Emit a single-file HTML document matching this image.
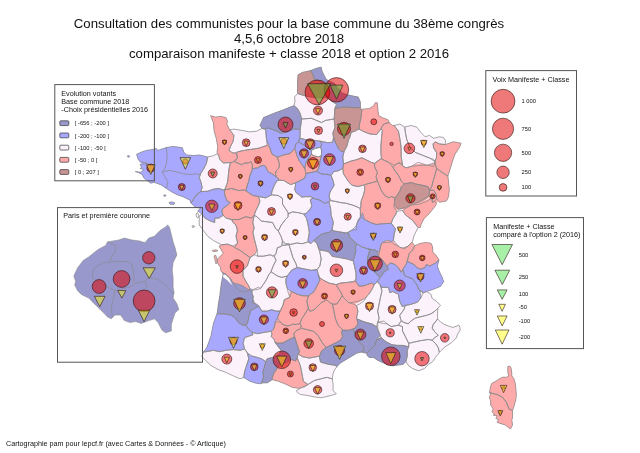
<!DOCTYPE html>
<html><head><meta charset="utf-8"><style>
html,body{margin:0;padding:0;background:#fff;}
body{width:640px;height:453px;overflow:hidden;position:relative;}
svg{position:absolute;left:0;top:0;will-change:transform;}
text{font-family:"Liberation Sans",sans-serif;fill:#111;}
</style></head><body>
<svg width="640" height="453" viewBox="0 0 640 453">
<defs><clipPath id="fr"><path d="M489.5,392.6 L491.0,393.0 L489.3,397.1 L490.6,401.1 L490.6,405.0 L493.2,409.0 L491.9,411.7 L494.6,414.3 L493.2,415.1 L497.2,415.8 L495.9,418.4 L498.5,419.7 L497.2,422.4 L505.2,425.0 L507.8,427.0 L510.5,429.0 L512.5,425.0 L511.8,419.7 L512.5,418.3 L512.5,410.5 L513.1,409.0 L514.4,405.0 L515.8,399.7 L516.4,394.4 L515.8,387.8 L515.1,382.5 L513.8,378.5 L511.8,375.9 L511.8,373.2 L511.1,367.9 L509.8,366.0 L507.8,366.6 L507.8,371.9 L508.5,375.9 L506.5,377.2 L502.5,377.2 L499.9,378.5 L495.9,381.2 L491.9,383.2 L490.6,386.5 L489.5,392.6ZM135.3,171.5 L138.5,172.6 L142.2,174.6 L143.9,178.0 L147.4,180.6 L150.8,183.2 L154.3,182.3 L161.1,184.9 L166.3,188.4 L171.5,191.8 L176.6,194.4 L183.5,197.0 L190.4,200.4 L190.8,202.6 L190.9,202.9 L194.9,206.8 L200.5,208.3 L197.7,211.1 L202.0,213.9 L199.2,216.0 L199.2,225.0 L203.5,230.7 L207.7,236.3 L213.4,240.5 L221.8,244.8 L219.0,246.2 L223.3,253.3 L220.4,256.1 L217.6,258.9 L217.6,263.1 L220.4,267.4 L221.1,271.6 L222.3,272.3 L222.8,275.7 L221.2,284.1 L219.8,295.4 L218.4,303.9 L217.7,309.6 L217.0,313.8 L213.5,323.0 L210.9,336.2 L208.5,343.0 L206.5,348.0 L203.5,352.0 L201.8,356.5 L205.6,360.5 L210.9,365.4 L218.0,369.5 L225.0,372.0 L232.5,375.5 L240.0,378.8 L243.7,377.5 L250.0,381.3 L255.0,383.0 L260.0,383.8 L261.2,383.3 L262.0,383.0 L267.5,382.8 L272.2,379.7 L278.4,381.3 L286.3,384.4 L292.5,387.5 L300.0,388.5 L296.4,390.6 L297.2,392.2 L300.3,394.5 L306.6,395.3 L314.4,396.9 L320.6,397.7 L325.3,396.9 L331.6,395.3 L336.3,393.8 L333.1,390.6 L333.1,384.4 L332.3,378.9 L333.1,373.4 L334.5,370.0 L337.1,366.4 L340.4,363.1 L345.9,359.7 L351.4,356.4 L357.0,353.1 L361.4,352.0 L364.7,353.1 L366.9,353.1 L366.9,355.3 L369.1,357.4 L373.4,357.4 L377.6,360.2 L381.8,362.3 L387.5,364.4 L393.1,365.9 L397.4,365.2 L403.0,364.4 L405.9,361.6 L408.7,365.9 L412.9,368.7 L418.6,370.8 L424.2,368.7 L428.5,364.4 L432.7,361.6 L435.5,357.4 L439.4,352.3 L440.6,351.1 L444.3,347.5 L447.9,345.0 L451.6,342.6 L454.0,340.2 L456.4,337.8 L457.6,334.1 L460.0,330.5 L460.0,327.5 L458.8,325.0 L456.4,326.2 L452.8,327.5 L449.1,326.2 L444.3,324.4 L440.6,322.0 L437.6,319.0 L437.6,314.0 L437.8,308.3 L440.6,305.4 L436.4,301.2 L432.2,298.4 L430.8,294.1 L426.6,291.6 L432.7,289.6 L440.5,286.4 L443.7,281.7 L442.1,277.0 L439.0,270.8 L437.4,266.0 L439.0,259.8 L435.8,255.1 L432.7,251.9 L432.7,247.2 L431.1,243.3 L426.4,242.5 L420.2,243.3 L417.0,244.9 L414.7,245.7 L412.3,242.6 L413.9,236.0 L415.3,233.1 L418.1,227.5 L420.3,227.5 L421.0,224.7 L423.8,219.0 L429.4,213.4 L435.1,206.3 L438.3,200.7 L439.4,202.3 L446.5,200.9 L448.6,196.6 L449.3,189.6 L448.6,182.5 L447.9,176.1 L450.8,167.0 L452.9,159.9 L455.0,154.2 L457.8,150.0 L459.1,148.1 L461.2,143.2 L453.5,141.8 L445.0,144.6 L445.7,141.1 L443.6,137.5 L439.3,136.8 L433.7,138.3 L429.4,135.4 L425.2,136.8 L421.0,132.6 L416.7,127.0 L411.1,125.5 L404.7,127.0 L399.8,124.1 L394.1,125.5 L392.2,125.4 L389.3,122.5 L387.9,119.7 L382.3,117.6 L378.7,115.5 L378.0,110.5 L377.3,102.8 L375.2,102.8 L373.8,105.6 L369.6,108.4 L361.2,109.4 L360.4,107.7 L360.4,102.1 L358.3,97.1 L348.4,95.0 L342.0,93.0 L334.0,83.0 L328.8,81.0 L326.0,79.1 L323.6,74.3 L322.2,71.5 L321.2,67.2 L316.5,68.2 L310.8,70.5 L302.2,72.4 L298.0,74.8 L297.5,81.0 L297.5,93.5 L294.5,97.0 L295.0,101.0 L294.0,105.6 L283.3,109.8 L273.4,113.4 L263.5,117.6 L259.9,125.4 L262.2,128.4 L256.5,131.2 L249.4,131.9 L242.4,130.5 L233.9,129.1 L229.7,129.8 L226.8,124.1 L227.5,121.3 L226.1,117.8 L221.2,116.4 L215.5,117.1 L210.6,115.7 L213.4,122.7 L214.1,131.2 L216.2,138.3 L217.7,146.7 L217.0,152.4 L217.6,153.6 L213.5,155.6 L207.8,157.0 L205.0,156.3 L199.3,154.9 L193.7,155.6 L186.6,154.9 L183.8,152.1 L182.4,147.8 L178.1,147.1 L172.5,146.4 L166.5,147.6 L161.8,149.0 L158.0,150.4 L156.1,148.5 L152.3,149.5 L146.6,150.4 L141.8,151.9 L136.6,154.2 L138.0,159.0 L141.8,164.3 L140.0,164.7 L141.8,167.5 L140.0,168.5 L149.1,170.7 L148.6,173.4 L135.3,171.5Z"/></clipPath></defs>
<g font-size="13.2" text-anchor="middle">
<text x="289" y="28.4">Consultation des communistes pour la base commune du 38ème congrès</text>
<text x="289" y="43.1">4,5,6 octobre 2018</text>
<text x="289" y="58.2">comparaison manifeste + classe 2018 et option 2 2016</text>
</g>
<g stroke-linejoin="round">
<g clip-path="url(#fr)">
<polygon points="210.6,115.7 215.5,117.1 221.2,116.4 226.1,117.8 227.5,121.3 226.8,124.1 229.7,129.8 233.9,135.4 233.2,141.1 230.4,146.7 229.0,150.3 231.8,152.4 233.7,153.0 236.7,153.8 237.4,158.0 233.5,161.4 232.5,162.3 230.2,162.5 228.9,162.6 223.3,163.0 219.8,159.4 219.0,156.6 217.6,153.6 217.0,152.4 217.7,146.7 216.2,138.3 214.1,131.2 213.4,122.7" fill="#ffaaaa" stroke="#ffaaaa" stroke-width="3"/>
<polygon points="229.7,129.8 233.9,129.1 242.4,130.5 249.4,131.9 256.5,131.2 262.2,128.4 263.0,128.7 265.7,129.8 266.3,137.5 266.4,138.3 267.1,145.3 259.3,148.1 254.2,148.9 249.4,149.6 244.4,150.4 241.0,151.0 237.6,151.9 233.7,153.0 231.8,152.4 229.0,150.3 230.4,146.7 233.2,141.1 233.9,135.4" fill="#fcf2fc" stroke="#fcf2fc" stroke-width="3"/>
<polygon points="259.9,125.4 263.5,117.6 273.4,113.4 283.3,109.8 293.9,105.6 297.4,108.4 300.2,113.4 301.6,119.0 300.9,124.7 300.2,129.6 294.6,128.9 290.3,130.3 286.1,132.4 280.4,133.1 276.2,131.0 269.1,128.2 265.6,128.5 263.0,128.7 262.2,128.4" fill="#9898cc" stroke="#9898cc" stroke-width="3"/>
<polygon points="265.6,128.5 269.1,128.2 276.2,131.0 280.4,133.1 286.1,132.4 290.3,130.3 294.6,128.9 300.2,129.6 300.2,134.6 299.5,138.0 299.1,140.2 298.8,141.6 298.3,142.0 296.0,143.7 294.6,148.7 291.7,152.0 290.3,153.6 288.3,154.0 283.3,155.0 281.3,155.8 277.6,157.2 276.9,156.9 276.8,156.8 272.0,154.3 269.8,147.8 269.1,145.9 266.4,138.3 266.3,137.5 265.7,129.8" fill="#a8a8ff" stroke="#a8a8ff" stroke-width="3"/>
<polygon points="298.0,74.8 302.2,72.4 310.8,70.5 313.2,75.3 314.1,79.1 319.0,81.0 324.0,83.0 328.0,86.0 330.0,92.0 328.0,97.0 322.0,98.0 315.0,97.5 308.0,96.5 302.0,95.0 297.5,93.5 297.5,88.6 297.5,81.0" fill="#c89494" stroke="#c89494" stroke-width="3"/>
<polygon points="310.8,70.5 316.5,68.2 321.2,67.2 322.2,71.5 323.6,74.3 326.0,79.1 328.8,81.0 334.0,83.0 338.0,88.0 342.0,93.0 348.4,95.0 358.3,97.1 360.4,102.1 360.4,107.7 354.0,107.7 344.1,107.0 334.9,108.4 336.6,104.4 330.0,100.0 328.0,97.0 330.0,92.0 328.0,86.0 324.0,83.0 319.0,81.0 314.1,79.1 313.2,75.3" fill="#9898cc" stroke="#9898cc" stroke-width="3"/>
<polygon points="297.5,93.5 302.0,95.0 308.0,96.5 315.0,97.5 322.0,98.0 328.0,97.0 330.0,100.0 336.6,104.4 334.9,108.4 334.2,119.0 325.6,120.4 321.4,122.5 311.5,118.3 301.6,119.0 300.2,113.4 297.4,108.4 294.0,105.6 295.0,101.0 294.5,97.0" fill="#fcf2fc" stroke="#fcf2fc" stroke-width="3"/>
<polygon points="334.9,108.4 344.1,107.0 354.0,107.7 360.4,107.7 361.2,109.4 361.8,110.5 361.1,117.6 359.7,123.3 359.0,128.9 359.1,129.3 358.7,129.1 355.4,131.0 351.2,132.4 349.8,137.4 348.4,140.2 347.0,145.9 344.1,151.5 341.3,151.5 338.5,148.7 335.7,143.0 333.5,137.4 332.8,133.1 334.9,127.5 334.2,119.0" fill="#c89494" stroke="#c89494" stroke-width="3"/>
<polygon points="361.2,109.4 369.6,108.4 373.8,105.6 375.2,102.8 377.3,102.8 378.0,110.5 378.7,115.5 382.3,117.6 387.9,119.7 389.3,122.5 384.4,123.8 383.7,124.0 380.9,128.9 376.6,134.6 369.6,133.9 363.9,131.7 359.1,129.3 359.1,129.3 358.7,129.1 359.0,128.9 359.7,123.3 361.1,117.6 361.8,110.5" fill="#ffaaaa" stroke="#ffaaaa" stroke-width="3"/>
<polygon points="384.4,123.8 389.3,122.5 392.2,125.4 394.1,125.5 398.4,131.2 399.8,138.3 401.2,148.1 401.2,156.6 402.6,165.8 401.3,164.1 399.8,162.3 397.8,163.3 394.1,165.1 388.5,162.3 384.5,160.4 381.6,159.0 381.5,158.2 381.1,155.6 380.9,154.3 380.9,145.9 381.6,137.4 382.3,130.3 380.9,128.9 383.7,124.0" fill="#ffaaaa" stroke="#ffaaaa" stroke-width="3"/>
<polygon points="394.1,125.5 399.8,124.1 404.7,127.0 405.4,132.6 406.8,139.7 409.7,146.7 415.3,152.4 422.4,155.2 429.4,158.0 433.7,159.4 434.6,161.2 435.0,162.1 435.1,162.3 434.8,162.9 434.6,163.9 433.7,166.5 426.9,165.2 426.6,165.1 418.1,162.3 411.1,166.5 408.1,167.3 406.1,167.9 402.6,165.8 401.2,156.6 401.2,148.1 399.8,138.3 398.4,131.2" fill="#fcf2fc" stroke="#fcf2fc" stroke-width="3"/>
<polygon points="404.7,127.0 411.1,125.5 416.7,127.0 421.0,132.6 425.2,136.8 429.4,135.4 433.7,138.3 439.3,136.8 443.6,137.5 445.7,141.1 445.0,144.6 439.3,143.9 435.1,141.8 433.0,143.9 433.7,148.1 436.5,152.4 436.5,158.0 435.0,160.5 434.6,161.2 429.4,158.0 422.4,155.2 415.3,152.4 409.7,146.7 406.8,139.7 405.4,132.6" fill="#fcf2fc" stroke="#fcf2fc" stroke-width="3"/>
<polygon points="435.1,141.8 439.3,143.9 445.0,144.6 453.5,141.8 461.2,143.2 459.1,148.1 457.8,150.0 455.0,154.2 452.9,159.9 450.8,167.0 447.9,176.1 442.3,172.6 436.6,168.4 434.6,163.9 434.8,162.9 434.8,162.9 435.1,162.3 435.1,162.3 435.0,162.1 435.0,160.5 435.0,160.5 436.5,158.0 436.5,152.4 433.7,148.1 433.0,143.9" fill="#ffaaaa" stroke="#ffaaaa" stroke-width="3"/>
<polygon points="436.6,168.4 442.3,172.6 447.9,176.1 448.6,182.5 449.3,189.6 448.6,196.6 446.5,200.9 439.4,202.3 436.6,198.0 435.9,193.8 433.8,190.3 429.6,190.3 431.7,186.7 433.1,181.1 435.2,174.0" fill="#ffaaaa" stroke="#ffaaaa" stroke-width="3"/>
<polygon points="429.6,190.3 433.8,190.3 435.9,193.8 436.6,198.0 435.2,200.9 434.6,201.2 432.4,202.3 431.0,198.7 428.9,195.2 429.5,191.0" fill="#ffaaaa" stroke="#ffaaaa" stroke-width="3"/>
<polygon points="392.8,167.0 397.8,163.3 401.3,164.1 402.6,165.8 406.1,167.9 408.1,167.3 411.1,166.5 418.3,165.5 426.6,165.1 426.9,165.2 434.8,162.9 434.6,161.2 434.6,161.2 435.0,160.5 435.0,162.1 435.0,162.1 435.1,162.3 436.6,168.4 435.2,174.0 433.1,181.1 431.7,186.7 429.6,190.3 428.1,186.7 422.5,185.3 415.4,183.9 411.2,182.5 404.1,183.9 401.3,181.1 398.5,175.4 394.2,169.8" fill="#ffaaaa" stroke="#ffaaaa" stroke-width="3"/>
<polygon points="404.1,183.9 411.2,182.5 415.4,183.9 422.5,185.3 428.1,186.7 429.6,190.3 429.6,190.3 429.6,190.3 429.5,191.0 428.9,195.2 425.3,198.0 418.3,202.3 411.2,205.1 410.5,205.4 404.1,207.9 398.5,209.3 394.2,205.1 394.9,198.0 397.1,195.2 399.9,191.0 401.3,186.7" fill="#c89494" stroke="#c89494" stroke-width="3"/>
<polygon points="355.4,131.0 358.7,129.1 358.7,129.1 359.1,129.3 359.0,128.9 359.0,128.9 363.9,131.7 369.6,133.9 376.6,134.6 380.9,128.9 382.3,130.3 381.6,137.4 380.9,145.9 380.9,154.3 381.1,155.6 381.5,158.2 380.6,158.9 374.6,163.3 371.7,162.6 366.1,159.8 361.8,157.7 356.2,159.8 350.5,161.2 343.5,164.0 342.8,157.0 344.1,151.5 347.0,145.9 348.4,140.2 349.8,137.4 351.2,132.4" fill="#fcf2fc" stroke="#fcf2fc" stroke-width="3"/>
<polygon points="343.5,164.0 350.5,161.2 356.2,159.8 361.8,157.7 366.1,159.8 371.7,162.6 374.6,163.3 374.6,166.8 377.4,172.5 376.0,176.7 377.4,181.0 376.0,181.5 373.1,182.4 372.7,182.5 367.5,183.8 364.4,184.8 363.3,185.2 357.6,186.6 352.0,185.2 349.1,182.4 346.3,178.1 343.5,173.9 342.8,168.3" fill="#ffaaaa" stroke="#ffaaaa" stroke-width="3"/>
<polygon points="374.6,163.3 380.6,158.9 381.6,159.0 384.5,160.4 388.5,162.3 392.8,167.0 394.2,169.8 398.5,175.4 401.3,181.1 404.1,183.9 401.3,186.7 399.9,191.0 397.1,195.2 394.9,198.0 391.5,196.5 388.7,197.9 384.4,195.1 381.6,190.9 377.4,181.0 376.0,176.7 377.4,172.5 374.6,166.8" fill="#ffaaaa" stroke="#ffaaaa" stroke-width="3"/>
<polygon points="364.4,184.8 367.5,183.8 372.7,182.5 373.1,182.4 376.0,181.5 377.4,181.0 381.6,190.9 384.4,195.1 388.7,197.9 391.5,196.5 394.9,198.0 394.2,205.1 394.1,207.7 397.0,211.2 395.5,214.8 392.7,219.0 391.3,223.3 381.6,223.8 376.0,224.5 370.3,222.4 364.7,219.6 361.0,217.1 360.4,216.7 360.4,210.4 360.6,208.4 360.7,206.8 361.1,201.2 363.3,195.5 364.7,189.9 364.5,185.7" fill="#ffaaaa" stroke="#ffaaaa" stroke-width="3"/>
<polygon points="402.6,210.5 410.5,205.4 411.2,205.1 419.6,204.2 428.0,200.7 431.0,198.7 432.3,197.1 432.4,202.3 434.6,201.2 436.6,203.7 435.1,206.3 429.4,213.4 423.8,219.0 421.0,224.7 420.3,227.5 418.1,227.5 412.5,220.4 405.4,214.8" fill="#ffaaaa" stroke="#ffaaaa" stroke-width="3"/>
<polygon points="397.0,211.2 402.6,210.5 405.4,214.8 412.5,220.4 418.1,227.5 415.3,233.1 413.9,236.0 412.5,241.6 412.0,242.2 408.3,245.9 408.0,246.2 404.7,248.7 402.5,248.1 399.8,247.3 398.9,246.4 395.5,243.0 393.4,240.2 394.1,234.6 395.5,228.9 391.3,223.3 392.7,219.0 395.5,214.8" fill="#fcf2fc" stroke="#fcf2fc" stroke-width="3"/>
<polygon points="331.0,175.5 333.8,171.5 338.8,170.6 342.8,168.3 343.5,173.9 346.3,178.1 349.1,182.4 352.0,185.2 357.6,186.6 363.3,185.2 364.5,185.7 364.7,189.9 363.3,195.5 361.1,201.2 360.7,206.8 360.6,208.4 359.2,207.8 353.4,205.4 346.3,203.3 340.7,202.6 335.3,201.4 330.6,200.6 329.1,196.7 329.8,192.8 331.4,189.7 333.0,187.3 334.1,185.2 333.0,180.5" fill="#fcf2fc" stroke="#fcf2fc" stroke-width="3"/>
<polygon points="299.1,140.2 299.5,138.0 300.2,138.2 305.3,139.6 313.4,140.2 320.5,141.2 321.6,144.2 320.5,147.3 315.5,148.3 311.4,150.3 306.3,147.3 304.3,145.2 299.5,142.6 298.3,142.0 298.8,141.6 298.8,141.6" fill="#a8a8ff" stroke="#a8a8ff" stroke-width="3"/>
<polygon points="298.8,141.6 299.5,142.6 304.3,145.2 306.3,147.3 311.4,150.3 311.4,154.4 308.4,158.4 306.3,161.5 305.3,165.5 304.8,168.8 302.5,165.2 299.0,160.5 296.6,154.7 295.5,150.6 294.6,148.7 296.0,143.7 298.3,142.0 298.3,142.0" fill="#a8a8ff" stroke="#a8a8ff" stroke-width="3"/>
<polygon points="308.4,158.4 311.4,154.4 314.5,155.9 318.5,156.9 321.6,155.4 320.0,160.5 319.5,165.5 317.5,170.6 316.6,171.1 311.9,172.3 306.0,173.4 304.8,168.8 305.3,165.5 306.3,161.5" fill="#ffaaaa" stroke="#ffaaaa" stroke-width="3"/>
<polygon points="320.5,141.2 327.7,142.7 332.7,142.2 333.5,137.4 335.7,143.0 338.5,148.7 341.3,151.5 344.1,151.5 342.8,157.0 343.5,164.0 342.8,168.3 338.8,170.6 333.8,171.5 331.0,175.5 327.7,174.0 325.7,174.3 323.6,174.7 320.1,173.4 316.6,171.1 317.5,170.6 319.5,165.5 320.0,160.5 321.6,155.4 321.6,150.3 320.5,147.3 321.6,144.2" fill="#a8a8ff" stroke="#a8a8ff" stroke-width="3"/>
<polygon points="276.8,156.8 277.6,157.2 281.3,155.8 283.3,155.0 288.3,154.0 291.7,152.0 294.6,148.7 295.5,150.6 296.6,154.7 299.0,160.5 302.5,165.2 304.8,168.8 306.0,173.4 304.8,178.1 300.2,180.5 295.5,182.8 290.8,184.6 287.3,182.8 283.8,180.5 278.8,180.2 278.1,178.2 276.1,176.9 275.5,173.5 276.1,170.9 278.8,168.2 279.4,164.9 279.1,162.9" fill="#ffaaaa" stroke="#ffaaaa" stroke-width="3"/>
<polygon points="295.5,182.8 300.2,180.5 304.8,178.1 306.0,173.4 311.9,172.3 316.6,171.1 320.1,173.4 325.7,174.3 331.0,175.5 333.0,180.5 334.1,185.2 333.0,187.3 331.4,189.7 329.8,192.8 329.1,196.7 330.6,200.6 329.1,201.4 329.1,201.4 327.5,202.2 324.4,203.4 322.0,201.4 318.9,199.8 315.8,199.1 312.7,197.9 311.1,196.7 305.6,196.7 301.7,197.1 299.4,195.2 296.3,192.8 294.7,189.7 295.5,185.0" fill="#a8a8ff" stroke="#a8a8ff" stroke-width="3"/>
<polygon points="136.6,154.2 141.8,151.9 146.6,150.4 152.3,149.5 156.1,148.5 158.0,150.4 161.8,149.0 166.5,147.6 172.5,146.4 178.1,147.1 182.4,147.8 183.8,152.1 186.6,154.9 193.7,155.6 199.3,154.9 205.0,156.3 207.8,157.0 206.4,163.4 203.6,169.0 200.8,173.3 199.3,177.5 200.8,181.7 202.2,187.4 200.8,191.6 198.5,193.1 196.5,194.4 193.7,198.7 192.3,201.5 190.9,202.9 190.8,202.6 190.4,200.4 183.5,197.0 176.6,194.4 171.5,191.8 166.3,188.4 161.1,184.9 154.3,182.3 150.8,183.2 147.4,180.6 143.9,178.0 142.2,174.6 138.5,172.6 135.3,171.5 140.9,172.3 143.7,169.4 140.0,168.5 141.8,167.5 140.0,164.7 144.5,163.8 147.8,163.4 144.5,162.6 140.0,161.8 138.0,159.0" fill="#a8a8ff" stroke="#a8a8ff" stroke-width="3"/>
<polygon points="207.8,157.0 213.5,155.6 217.6,153.6 219.0,156.6 219.8,159.4 223.3,163.0 228.9,162.6 230.2,162.5 230.1,163.3 228.9,169.7 228.2,176.7 227.5,182.4 225.4,188.0 224.6,189.9 223.1,189.9 218.9,188.5 213.3,189.2 207.6,191.3 201.9,191.5 200.8,191.6 200.8,191.6 202.2,187.4 200.8,181.7 199.3,177.5 200.8,173.3 203.6,169.0 206.4,163.4" fill="#fcf2fc" stroke="#fcf2fc" stroke-width="3"/>
<polygon points="230.1,163.3 232.5,162.3 233.5,161.4 234.9,161.9 241.6,164.7 245.0,163.0 248.3,163.0 251.0,161.6 252.3,164.3 252.3,168.9 251.6,171.6 249.6,176.2 249.0,180.2 247.3,185.2 245.9,190.9 244.3,189.9 238.7,190.6 231.6,188.5 224.6,189.9 225.4,188.0 227.5,182.4 228.2,176.7 228.9,169.7" fill="#ffaaaa" stroke="#ffaaaa" stroke-width="3"/>
<polygon points="236.7,153.8 237.6,151.9 241.0,151.0 244.4,150.4 249.4,149.6 254.2,148.9 259.3,148.1 267.1,145.3 269.8,147.8 272.0,154.3 276.9,156.9 277.6,157.2 277.6,157.2 279.1,162.9 279.4,164.9 278.8,168.2 276.1,170.9 275.5,173.5 276.1,176.9 273.5,174.9 271.5,173.5 268.8,172.2 266.9,169.6 265.5,166.3 263.5,165.3 260.2,166.3 257.6,167.9 254.9,168.2 252.3,168.9 252.3,164.3 251.0,161.6 248.3,163.0 245.0,163.0 241.6,164.7 234.9,161.9 237.4,158.0" fill="#ffaaaa" stroke="#ffaaaa" stroke-width="3"/>
<polygon points="252.3,168.9 254.9,168.2 257.6,167.9 260.2,166.3 263.5,165.3 265.5,166.3 266.9,169.6 268.8,172.2 271.5,173.5 273.5,174.9 276.1,176.9 278.1,178.2 278.8,180.2 276.7,181.0 274.4,185.2 272.0,191.0 271.4,194.7 271.3,195.1 265.8,197.8 265.6,197.9 259.7,196.7 258.7,196.9 258.6,196.5 252.8,195.5 248.6,192.7 245.9,190.9 247.3,185.2 249.0,180.2 249.6,176.2 251.6,171.6" fill="#a8a8ff" stroke="#a8a8ff" stroke-width="3"/>
<polygon points="201.9,191.5 207.6,191.3 213.3,189.2 218.9,188.5 223.1,189.9 224.6,189.9 224.6,194.1 226.0,198.4 227.4,201.2 230.2,202.6 227.4,205.4 223.1,208.3 221.7,211.1 223.1,215.3 218.9,218.1 214.7,218.1 214.7,222.4 210.4,221.0 204.8,218.1 202.0,213.9 197.7,211.1 200.5,208.3 194.9,206.8 190.9,202.9 190.8,202.6 192.3,201.5 193.8,198.6 198.5,193.1 200.8,191.6 200.8,191.6 200.8,191.6" fill="#a8a8ff" stroke="#a8a8ff" stroke-width="3"/>
<polygon points="224.6,189.9 231.6,188.5 238.7,190.6 244.3,189.9 245.9,190.9 248.6,192.7 252.8,195.5 258.6,196.5 258.7,196.9 258.7,196.9 259.9,201.2 258.5,205.4 255.6,211.1 254.2,215.3 251.4,218.1 245.8,216.7 238.7,219.6 231.6,219.6 226.0,218.1 223.1,215.3 221.7,211.1 223.1,208.3 227.4,205.4 230.2,202.6 227.4,201.2 226.0,198.4 224.6,194.1" fill="#ffaaaa" stroke="#ffaaaa" stroke-width="3"/>
<polygon points="301.6,119.0 311.5,118.3 321.4,122.5 325.6,120.4 334.2,119.0 334.9,127.5 332.8,133.1 333.5,137.4 332.7,142.2 327.7,142.7 320.5,141.2 313.4,140.2 305.3,139.6 300.2,138.2 300.2,134.6 300.2,129.6 300.9,124.7" fill="#fcf2fc" stroke="#fcf2fc" stroke-width="3"/>
<polygon points="258.7,196.9 258.6,196.5 258.6,196.5 259.7,196.7 265.6,197.9 265.8,197.8 271.3,195.1 271.3,195.1 271.4,194.7 272.6,194.9 278.3,195.6 282.5,198.5 282.5,204.1 285.3,208.4 288.1,212.6 288.1,214.0 288.1,214.0 288.1,216.8 285.3,219.7 281.1,225.3 278.3,231.0 275.4,228.1 272.6,222.5 267.0,221.8 261.3,221.1 257.1,216.8 254.2,215.3 255.6,211.1 258.5,205.4 259.9,201.2" fill="#fcf2fc" stroke="#fcf2fc" stroke-width="3"/>
<polygon points="278.8,180.2 283.8,180.5 287.3,182.8 290.8,184.6 295.5,182.8 295.5,185.0 294.7,189.7 296.3,192.8 299.4,195.2 301.7,197.1 305.6,196.7 311.1,196.7 312.7,197.9 310.3,199.8 311.1,203.0 311.9,206.1 309.5,210.0 306.0,213.5 303.7,214.0 298.0,212.6 292.4,211.9 288.1,214.0 288.1,212.6 285.3,208.4 282.5,204.1 282.5,198.5 278.3,195.6 272.6,194.9 271.3,195.1 271.4,194.7 271.4,194.7 272.0,191.0 274.4,185.2 276.7,181.0" fill="#fcf2fc" stroke="#fcf2fc" stroke-width="3"/>
<polygon points="312.7,197.9 315.8,199.1 318.9,199.8 322.0,201.4 324.4,203.4 327.5,202.2 329.1,201.4 329.8,205.3 330.6,208.4 331.2,215.4 333.4,222.5 332.0,229.6 330.8,230.7 329.1,232.4 327.3,232.8 322.1,233.8 316.4,238.0 314.1,240.7 313.9,240.5 312.2,242.3 310.8,243.7 308.6,241.6 307.9,240.9 309.3,232.4 307.9,223.9 306.5,218.3 303.7,214.0 306.0,213.5 309.5,210.0 311.9,206.1 311.1,203.0 310.3,199.8" fill="#a8a8ff" stroke="#a8a8ff" stroke-width="3"/>
<polygon points="288.1,214.0 292.4,211.9 298.0,212.6 303.7,214.0 306.5,218.3 307.9,223.9 309.3,232.4 307.9,240.9 310.8,243.7 308.6,241.6 307.8,241.9 302.3,243.7 296.6,243.0 291.0,244.4 288.8,244.1 285.3,243.7 282.5,240.9 281.1,236.6 278.3,231.0 281.1,225.3 285.3,219.7 288.1,216.8" fill="#fcf2fc" stroke="#fcf2fc" stroke-width="3"/>
<polygon points="329.8,205.3 329.1,201.4 330.6,200.6 335.3,201.4 340.7,202.6 346.3,203.3 353.4,205.4 359.2,207.8 360.4,210.4 360.4,216.7 358.0,220.0 356.8,223.7 356.0,226.0 352.0,230.0 348.1,232.3 348.2,232.6 347.0,233.0 345.3,232.8 341.4,232.2 340.0,232.0 335.5,231.2 334.0,231.0 332.0,229.6 333.4,222.5 331.2,215.4 330.6,208.4" fill="#fcf2fc" stroke="#fcf2fc" stroke-width="3"/>
<polygon points="199.2,216.0 202.0,213.9 204.8,218.1 210.4,221.0 214.7,222.4 214.7,218.1 218.9,218.1 223.1,215.3 226.0,218.1 231.6,219.6 233.0,222.4 236.0,225.0 237.4,230.7 236.0,236.3 237.4,242.0 237.4,243.4 233.1,246.2 227.5,244.1 221.8,244.8 219.0,243.4 213.4,240.5 207.7,236.3 203.5,230.7 199.2,225.0" fill="#fcf2fc" stroke="#fcf2fc" stroke-width="3"/>
<polygon points="231.6,219.6 238.7,219.6 245.8,216.7 251.4,218.1 254.2,215.3 252.8,222.4 254.2,228.0 252.9,232.1 254.3,239.1 255.8,244.8 257.2,250.4 254.3,254.7 250.1,257.5 245.9,254.7 240.2,250.4 234.6,247.6 237.4,243.4 237.4,242.0 236.0,236.3 237.4,230.7 236.0,225.0 233.0,222.4" fill="#ffaaaa" stroke="#ffaaaa" stroke-width="3"/>
<polygon points="254.2,215.3 257.1,216.8 261.3,221.1 267.0,221.8 272.6,222.5 275.4,228.1 278.3,231.0 281.1,236.6 282.5,240.9 281.3,245.9 281.1,246.5 277.4,247.7 276.0,253.4 273.9,255.5 273.1,256.2 270.3,254.8 263.3,256.2 257.6,256.2 257.2,250.4 255.8,244.8 254.3,239.1 252.9,232.1 254.2,228.0 252.8,222.4" fill="#fcf2fc" stroke="#fcf2fc" stroke-width="3"/>
<polygon points="221.8,244.8 227.5,244.1 233.1,246.2 234.6,247.6 240.2,250.4 245.9,254.7 250.1,257.5 248.7,261.7 247.3,266.0 243.0,270.2 243.0,275.9 245.9,281.5 248.7,285.8 250.1,289.0 246.0,292.0 240.0,291.0 237.4,289.0 233.1,282.9 232.6,282.2 230.5,278.9 230.3,278.7 227.8,276.2 226.1,274.4 223.4,272.9 221.1,271.6 220.4,267.4 217.6,263.1 217.6,258.9 220.4,256.1 223.3,253.3 219.0,246.2" fill="#ffaaaa" stroke="#ffaaaa" stroke-width="3"/>
<polygon points="250.1,257.5 254.3,254.7 257.6,256.2 263.3,256.2 270.3,254.8 273.1,256.2 273.9,255.5 274.3,256.3 276.0,260.4 273.1,266.1 271.0,271.7 268.9,274.6 266.1,280.2 263.3,284.4 260.4,288.7 255.0,290.0 253.1,289.6 250.1,289.0 248.7,285.8 245.9,281.5 243.0,275.9 243.0,270.2 247.3,266.0 248.7,261.7" fill="#fcf2fc" stroke="#fcf2fc" stroke-width="3"/>
<polygon points="276.0,253.4 277.4,247.7 281.1,246.5 281.3,245.9 282.8,245.5 288.8,244.1 289.0,244.8 290.8,250.5 292.9,257.6 295.8,263.3 297.2,267.5 291.5,270.3 287.3,276.0 281.6,277.4 277.4,276.0 273.1,273.1 271.0,271.7 273.1,266.1 276.0,260.4 274.3,256.3" fill="#fcf2fc" stroke="#fcf2fc" stroke-width="3"/>
<polygon points="282.5,240.9 285.3,243.7 288.8,244.1 288.8,244.1 291.0,244.4 296.6,243.0 302.3,243.7 307.8,241.9 310.8,243.7 312.2,242.3 313.9,240.5 314.1,240.7 314.1,240.7 317.0,243.5 319.1,249.9 319.8,252.0 321.2,259.0 319.8,266.1 317.0,269.6 311.3,270.3 304.2,268.9 297.2,267.5 297.2,267.5 295.8,263.3 292.9,257.6 290.8,250.5 289.0,244.8 282.8,245.5" fill="#fcf2fc" stroke="#fcf2fc" stroke-width="3"/>
<polygon points="287.3,276.0 291.5,270.3 297.2,267.5 304.2,268.9 311.3,270.3 317.0,269.6 318.4,274.6 319.1,277.5 319.2,277.5 319.8,280.2 317.0,285.9 314.1,291.5 308.5,295.8 302.8,295.8 297.2,294.3 291.5,291.5 287.3,288.7 285.9,283.0 285.9,278.8" fill="#a8a8ff" stroke="#a8a8ff" stroke-width="3"/>
<polygon points="361.0,217.1 362.4,212.8 364.7,219.6 370.3,222.4 376.0,224.5 381.6,223.8 391.3,223.3 395.5,228.9 394.1,234.6 393.4,240.2 391.3,241.6 387.8,242.5 382.2,242.5 380.8,245.3 379.4,251.9 379.3,252.4 377.0,251.1 375.0,250.0 374.1,249.9 370.1,249.3 370.1,249.3 368.5,249.1 368.3,249.0 368.0,249.0 365.8,248.2 362.0,247.0 356.7,243.9 353.9,241.1 349.7,236.8 348.2,232.6 348.2,232.6 348.1,232.3 351.8,230.1 356.7,229.8 356.8,223.7" fill="#a8a8ff" stroke="#a8a8ff" stroke-width="3"/>
<polygon points="322.1,233.8 327.3,232.8 329.1,232.4 330.8,230.7 332.0,229.6 334.0,231.0 335.5,231.2 340.0,232.0 341.4,232.2 345.3,232.8 347.0,233.0 348.1,232.3 348.1,232.3 348.2,232.6 349.7,236.8 353.9,241.1 356.7,243.9 355.3,248.1 356.0,250.7 354.6,256.3 353.1,260.5 351.7,260.5 347.5,259.1 340.4,257.7 332.0,256.3 329.1,252.1 325.7,251.0 319.9,250.0 319.1,249.9 317.0,243.5 314.1,240.7 313.9,240.5 313.9,240.5 316.4,238.0 322.1,233.8" fill="#9898cc" stroke="#9898cc" stroke-width="3"/>
<polygon points="319.9,250.0 325.7,251.0 329.1,252.1 332.0,256.3 340.4,257.7 347.5,259.1 351.7,260.5 353.1,260.5 354.6,266.2 356.0,273.3 356.0,278.9 353.1,281.7 347.5,282.4 340.4,283.1 336.2,284.6 329.1,283.1 323.5,280.3 319.1,277.5 318.4,274.6 317.0,269.6 319.8,266.1 321.2,259.0 319.8,252.0" fill="#fcf2fc" stroke="#fcf2fc" stroke-width="3"/>
<polygon points="356.7,243.9 362.0,247.0 365.8,248.2 368.0,249.0 368.5,249.1 370.1,249.3 368.7,253.5 367.3,259.1 368.7,266.2 372.9,270.4 377.2,274.7 380.0,277.5 377.2,281.7 374.3,284.6 371.5,283.1 367.3,284.6 363.0,286.0 358.8,286.0 356.0,281.7 356.0,278.9 356.0,273.3 354.6,266.2 353.1,260.5 354.6,256.3 356.0,250.7 355.3,248.1" fill="#a8a8ff" stroke="#a8a8ff" stroke-width="3"/>
<polygon points="368.3,249.0 368.0,249.0 368.0,249.0 374.1,249.9 375.0,250.0 377.0,251.1 378.6,256.3 382.8,260.5 387.1,266.2 388.5,269.0 384.2,271.8 381.4,276.1 380.0,277.5 377.2,274.7 372.9,270.4 368.7,266.2 367.3,259.1 368.7,253.5 370.1,249.3" fill="#9898cc" stroke="#9898cc" stroke-width="3"/>
<polygon points="380.8,245.3 382.2,242.5 387.2,240.2 391.3,241.6 393.5,244.1 398.9,246.4 399.8,247.3 402.5,248.1 408.0,246.2 408.3,245.9 412.0,242.2 414.7,245.7 414.3,246.6 412.3,250.4 409.2,253.5 408.7,255.4 407.9,258.5 407.6,259.8 407.1,261.1 407.6,261.4 406.0,264.5 402.9,269.2 401.3,272.3 398.2,267.6 395.1,264.5 390.4,262.9 387.1,266.2 382.8,260.5 378.6,256.3 379.3,252.4 379.4,251.9" fill="#ffaaaa" stroke="#ffaaaa" stroke-width="3"/>
<polygon points="336.2,284.6 340.4,283.1 347.5,282.4 353.1,281.7 356.0,281.7 358.8,286.0 363.0,286.0 367.3,284.6 371.5,283.1 374.3,284.6 372.9,287.4 371.5,290.2 370.7,291.4 368.7,294.4 367.6,295.5 364.4,298.7 357.4,301.5 349.4,302.8 348.9,302.9 346.2,300.2 346.1,300.1 343.3,297.3 342.4,295.7 342.5,295.7 340.4,291.6 337.6,287.4" fill="#ffaaaa" stroke="#ffaaaa" stroke-width="3"/>
<polygon points="317.0,285.9 319.8,280.2 318.4,274.6 319.2,277.5 323.5,280.3 329.1,283.1 336.2,284.6 337.6,287.4 340.4,291.6 342.5,295.7 339.6,299.9 336.7,304.1 332.5,304.1 329.7,302.7 326.8,299.9 321.2,302.7 314.1,309.8 309.9,311.2 308.4,308.3 306.9,301.2 308.5,295.8 314.1,291.5" fill="#ffaaaa" stroke="#ffaaaa" stroke-width="3"/>
<polygon points="408.7,255.4 409.2,253.5 412.3,250.4 414.3,246.6 414.7,245.7 417.0,244.9 420.2,243.3 426.4,242.5 431.1,243.3 432.7,247.2 432.7,251.9 435.8,255.1 439.0,259.8 435.8,262.9 432.7,264.5 429.6,266.0 426.4,264.5 424.9,267.6 420.2,269.2 417.0,267.6 413.9,264.5 407.6,261.4 407.6,261.4 407.1,261.1 407.6,259.8 407.9,258.5" fill="#ffaaaa" stroke="#ffaaaa" stroke-width="3"/>
<polygon points="406.0,264.5 407.1,261.1 407.1,261.1 407.6,261.4 413.9,264.5 417.0,267.6 420.2,269.2 424.9,267.6 426.4,264.5 429.6,266.0 432.7,264.5 435.8,262.9 439.0,259.8 437.4,266.0 439.0,270.8 442.1,277.0 443.7,281.7 440.5,286.4 432.7,289.6 428.0,291.1 426.6,291.6 423.3,292.7 419.9,290.5 418.6,289.6 417.0,284.9 412.3,278.6 407.6,277.0 404.5,275.5 402.9,269.2" fill="#a8a8ff" stroke="#a8a8ff" stroke-width="3"/>
<polygon points="387.1,266.2 390.4,262.9 395.1,264.5 398.2,267.6 401.3,272.3 402.9,269.2 404.5,275.5 407.6,277.0 412.3,278.6 417.0,284.9 418.6,289.6 419.9,290.5 419.9,290.5 423.3,292.7 421.0,297.5 417.5,302.2 410.5,304.5 405.3,305.4 402.2,306.6 399.7,301.2 398.3,294.1 397.2,293.6 392.7,291.6 389.8,292.7 388.5,287.4 381.4,287.4 380.1,284.8 380.0,284.6 377.2,281.7 380.0,277.5 381.4,276.1 384.2,271.8 388.5,269.0" fill="#a8a8ff" stroke="#a8a8ff" stroke-width="3"/>
<polygon points="251.8,292.7 252.0,292.2 252.2,291.7 253.1,289.6 258.9,287.1 260.4,288.7 263.3,284.4 266.1,280.2 268.9,274.6 271.0,271.7 273.1,273.1 277.4,276.0 281.6,277.4 287.3,276.0 285.9,278.8 285.9,283.0 287.3,288.7 288.6,294.1 290.0,297.0 284.3,299.8 282.9,305.4 280.1,311.1 275.9,311.1 271.6,309.7 267.4,311.1 261.7,311.1 258.9,306.1 256.1,304.0 254.8,303.6 251.8,302.6 252.9,298.5 253.3,297.0" fill="#fcf2fc" stroke="#fcf2fc" stroke-width="3"/>
<polygon points="284.3,299.8 290.0,297.0 291.5,291.5 297.2,294.3 302.8,295.8 308.5,295.8 306.9,301.2 308.4,308.3 304.1,315.3 301.3,319.6 300.0,323.5 298.4,324.0 295.1,324.6 293.1,324.0 290.5,325.3 287.8,326.0 285.2,325.3 281.9,324.0 280.5,322.0 277.3,318.1 280.1,311.1 282.9,305.4" fill="#ffaaaa" stroke="#ffaaaa" stroke-width="3"/>
<polygon points="258.9,306.1 261.7,311.1 267.4,311.1 271.6,309.7 275.9,311.1 280.1,311.1 277.3,318.1 275.2,322.0 274.6,326.0 273.3,329.3 271.3,331.3 264.6,332.3 257.5,333.7 251.8,332.3 247.6,328.0 246.2,325.2 247.6,322.4 249.0,316.7 250.4,311.1 254.7,308.3" fill="#a8a8ff" stroke="#a8a8ff" stroke-width="3"/>
<polygon points="275.2,322.0 280.5,322.0 281.9,324.0 285.2,325.3 287.8,326.0 290.5,325.3 293.1,324.0 295.1,324.6 298.4,324.0 300.0,323.5 301.3,326.0 299.1,329.3 296.4,330.6 295.1,331.9 293.8,333.9 294.5,336.6 292.5,337.9 289.8,339.2 287.2,340.5 283.9,342.5 281.2,343.2 277.9,343.2 275.2,342.5 274.6,340.5 273.3,338.6 271.3,336.6 271.9,333.9 271.3,331.3 273.3,329.3 274.6,326.0" fill="#ffaaaa" stroke="#ffaaaa" stroke-width="3"/>
<polygon points="223.4,272.9 226.1,274.4 227.8,276.2 230.3,278.7 230.5,278.9 232.6,282.2 233.1,282.9 238.1,284.1 242.4,285.5 246.6,288.4 252.2,291.7 252.0,292.2 251.8,292.7 253.3,297.0 252.9,298.5 254.8,303.6 256.1,304.0 258.9,306.1 254.7,308.3 250.4,311.1 249.0,316.7 247.6,322.4 246.2,325.2 242.4,325.1 238.1,322.3 235.3,318.0 231.1,315.2 224.0,313.8 217.0,313.8 217.7,309.6 218.4,303.9 219.8,295.4 221.2,284.1" fill="#9898cc" stroke="#9898cc" stroke-width="3"/>
<polygon points="217.0,313.8 224.0,313.8 231.1,315.2 235.3,318.0 238.1,322.3 242.4,325.1 246.2,325.2 247.6,328.0 251.8,332.3 253.0,334.8 248.8,336.2 244.6,337.6 243.1,343.3 244.6,348.9 240.3,350.3 233.3,349.6 226.2,350.3 219.1,351.7 213.5,350.3 206.4,351.7 203.5,352.0 206.5,348.0 208.5,343.0 210.9,336.2 213.5,323.0 217.0,313.8" fill="#a8a8ff" stroke="#a8a8ff" stroke-width="3"/>
<polygon points="203.5,352.0 206.4,351.7 213.5,350.3 219.1,351.7 226.2,350.3 233.3,349.6 240.3,350.3 244.6,348.9 247.4,353.1 248.8,358.8 247.4,363.0 246.0,367.3 244.6,371.5 243.7,377.5 240.0,378.8 232.5,375.5 225.0,372.0 218.0,369.5 210.9,365.4 205.6,360.5 201.8,356.5" fill="#fcf2fc" stroke="#fcf2fc" stroke-width="3"/>
<polygon points="247.4,353.1 251.6,356.0 257.3,357.4 261.5,358.8 265.8,361.6 264.3,367.3 262.9,371.5 263.5,377.0 263.4,377.3 262.0,383.0 261.2,383.3 260.0,383.8 255.0,383.0 250.0,381.3 243.7,377.5 244.6,371.5 246.0,367.3 247.4,363.0 248.8,358.8" fill="#a8a8ff" stroke="#a8a8ff" stroke-width="3"/>
<polygon points="244.6,337.6 248.8,336.2 253.0,334.8 251.8,332.3 257.5,333.7 264.6,332.3 271.3,331.3 271.9,333.9 271.3,336.6 273.3,338.6 274.6,340.5 275.2,342.5 277.2,345.2 279.2,347.8 281.2,350.5 278.5,354.6 272.8,357.4 267.2,358.8 265.8,361.6 261.5,358.8 257.3,357.4 251.6,356.0 247.4,353.1 244.6,348.9 243.1,343.3" fill="#fcf2fc" stroke="#fcf2fc" stroke-width="3"/>
<polygon points="294.5,336.6 293.8,333.9 295.1,331.9 296.4,330.6 299.1,329.3 302.4,328.5 308.0,329.9 313.7,331.3 317.9,335.5 322.2,342.6 326.0,347.6 321.6,350.9 319.4,356.4 316.5,356.7 309.4,358.1 302.4,356.7 298.1,353.9 299.7,352.0 298.4,348.5 297.1,344.5 295.8,340.5" fill="#ffaaaa" stroke="#ffaaaa" stroke-width="3"/>
<polygon points="275.2,342.5 277.9,343.2 281.2,343.2 283.9,342.5 287.2,340.5 289.8,339.2 292.5,337.9 294.5,336.6 295.8,340.5 297.1,344.5 298.4,348.5 299.7,352.0 298.1,353.9 297.2,357.8 295.6,360.9 290.9,359.4 286.3,362.5 278.4,365.6 276.9,368.8 273.8,373.4 272.2,378.1 272.2,379.7 267.5,382.8 262.0,383.0 261.2,383.3 263.4,377.3 263.5,377.0 262.9,371.5 264.3,367.3 265.8,361.6 267.2,358.8 272.8,357.4 278.5,354.6 281.2,350.5 279.2,347.8 277.2,345.2" fill="#9898cc" stroke="#9898cc" stroke-width="3"/>
<polygon points="272.2,379.7 272.2,378.1 273.8,373.4 276.9,368.8 278.4,365.6 286.3,362.5 290.9,359.4 295.6,360.9 297.2,357.8 300.3,365.6 301.9,373.4 303.4,381.3 308.1,384.4 307.7,384.7 305.0,386.7 301.5,387.6 298.8,388.3 292.5,387.5 286.3,384.4 278.4,381.3" fill="#ffaaaa" stroke="#ffaaaa" stroke-width="3"/>
<polygon points="298.1,353.9 302.4,356.7 309.4,358.1 316.5,356.7 319.4,356.4 320.5,362.0 323.8,363.1 328.2,364.2 334.9,365.3 337.1,366.4 334.5,370.0 333.1,373.4 332.3,378.9 326.9,377.3 320.6,378.9 314.4,380.5 308.1,384.4 307.7,384.7 307.7,384.7 303.4,381.3 301.9,373.4 300.3,365.6 297.2,357.8" fill="#fcf2fc" stroke="#fcf2fc" stroke-width="3"/>
<polygon points="296.4,390.6 301.5,387.6 307.7,384.7 308.1,384.4 308.1,384.4 314.4,380.5 320.6,378.9 326.9,377.3 332.3,378.9 333.1,384.4 333.1,390.6 336.3,393.8 331.6,395.3 325.3,396.9 320.6,397.7 314.4,396.9 306.6,395.3 300.3,394.5 297.2,392.2" fill="#fcf2fc" stroke="#fcf2fc" stroke-width="3"/>
<polygon points="309.9,311.2 314.1,309.8 321.2,302.7 326.8,299.9 329.7,302.7 332.5,304.1 333.9,311.2 335.3,318.3 338.1,325.3 342.4,329.6 341.5,332.1 342.6,336.6 340.4,339.9 337.1,342.1 332.7,344.3 326.0,347.6 322.2,342.6 317.9,335.5 313.7,331.3 308.0,329.9 302.4,328.5 301.3,326.0 300.0,323.5 301.3,319.6 304.1,315.3 308.4,308.3" fill="#ffaaaa" stroke="#ffaaaa" stroke-width="3"/>
<polygon points="332.5,304.1 336.7,304.1 339.6,299.9 342.4,295.7 343.3,297.3 346.1,300.1 346.2,300.2 348.9,302.9 349.4,302.8 353.7,304.1 356.5,305.5 357.9,311.2 356.5,318.3 356.6,318.6 357.9,323.9 355.1,328.1 352.1,329.2 352.1,329.2 350.9,329.6 349.4,330.1 346.6,331.0 343.7,330.0 342.4,329.6 338.1,325.3 335.3,318.3 333.9,311.2" fill="#ffaaaa" stroke="#ffaaaa" stroke-width="3"/>
<polygon points="370.7,291.4 371.5,290.2 372.9,287.4 374.3,284.6 377.2,281.7 380.0,284.6 380.1,284.8 380.1,284.8 381.4,287.4 381.9,291.4 380.5,297.1 379.1,304.1 377.7,311.2 379.1,318.3 377.8,322.2 377.8,322.2 377.7,322.5 376.5,326.1 376.3,326.7 372.1,323.9 366.4,322.5 362.2,321.1 357.6,319.1 356.6,318.6 356.5,318.3 357.9,311.2 356.5,305.5 359.3,304.1 363.6,301.3 367.6,295.5 368.7,294.4" fill="#fcf2fc" stroke="#fcf2fc" stroke-width="3"/>
<polygon points="357.6,319.1 362.2,321.1 366.4,322.5 372.1,323.9 376.3,326.7 376.5,326.1 377.9,329.6 379.0,332.1 380.3,335.4 381.2,337.7 376.8,339.9 374.6,345.4 370.2,349.8 366.9,353.1 364.7,353.1 361.4,352.0 363.6,350.9 363.6,346.5 359.2,342.1 355.9,336.6 355.5,333.0 352.1,329.2 355.1,328.1 357.9,323.9" fill="#9898cc" stroke="#9898cc" stroke-width="3"/>
<polygon points="321.6,350.9 326.0,347.6 332.7,344.3 337.1,342.1 340.4,339.9 342.6,336.6 341.5,332.1 343.7,330.0 349.4,330.1 350.9,329.6 352.1,329.2 355.5,333.0 355.9,336.6 359.2,342.1 363.6,346.5 363.6,350.9 361.4,352.0 357.0,353.1 351.4,356.4 345.9,359.7 340.4,363.1 337.1,366.4 334.9,365.3 328.2,364.2 323.8,363.1 320.5,362.0 319.4,356.4" fill="#9898cc" stroke="#9898cc" stroke-width="3"/>
<polygon points="380.1,284.8 380.0,284.6 380.0,284.6 381.4,287.4 388.5,287.4 389.8,292.7 392.7,291.6 397.2,293.6 398.3,294.1 399.7,301.2 402.2,306.6 405.3,305.4 403.9,309.7 399.7,315.3 400.7,319.4 401.1,321.0 398.3,325.2 391.2,326.6 387.0,323.8 384.1,321.0 377.8,322.2 377.7,322.5 379.1,318.3 377.7,311.2 379.1,304.1 380.5,297.1 381.9,291.4" fill="#fcf2fc" stroke="#fcf2fc" stroke-width="3"/>
<polygon points="405.3,305.4 410.5,304.5 417.5,302.2 421.0,297.5 419.9,290.5 423.3,292.7 426.6,291.6 430.8,294.1 432.2,298.4 436.4,301.2 440.6,305.4 437.8,308.3 435.0,311.1 430.8,313.9 426.5,315.3 420.9,316.7 415.2,318.1 411.0,321.0 408.1,323.8 403.9,322.4 400.7,319.4 399.7,315.3 403.9,309.7" fill="#fcf2fc" stroke="#fcf2fc" stroke-width="3"/>
<polygon points="401.1,321.0 403.9,322.4 408.1,323.8 411.0,321.0 415.2,318.1 420.9,316.7 426.5,315.3 430.8,313.9 435.0,311.1 437.8,308.3 437.6,314.0 437.6,319.0 433.3,324.4 432.1,328.1 434.6,331.7 438.2,335.3 434.6,337.8 432.1,340.2 428.5,339.5 421.4,340.5 414.3,342.0 408.7,343.3 405.3,336.5 402.5,330.9 402.5,326.6 398.3,325.2" fill="#fcf2fc" stroke="#fcf2fc" stroke-width="3"/>
<polygon points="437.6,319.0 440.6,322.0 444.3,324.4 449.1,326.2 452.8,327.5 456.4,326.2 458.8,325.0 460.0,327.5 460.0,330.5 457.6,334.1 456.4,337.8 454.0,340.2 451.6,342.6 447.9,345.0 444.3,347.5 440.6,351.1 439.4,352.3 438.2,347.5 435.8,343.8 432.1,340.2 434.6,337.8 438.2,335.3 434.6,331.7 432.1,328.1 433.3,324.4" fill="#fcf2fc" stroke="#fcf2fc" stroke-width="3"/>
<polygon points="377.8,322.2 383.3,323.5 387.0,323.8 391.2,326.6 398.3,325.2 402.5,326.6 402.5,330.9 405.3,336.5 408.7,343.3 408.7,346.8 403.0,345.4 397.4,345.4 391.7,344.7 386.1,341.8 382.2,338.6 381.2,337.7 376.8,339.9 380.3,335.4 379.0,332.1 377.9,329.6 377.7,322.5 377.7,322.5" fill="#fcf2fc" stroke="#fcf2fc" stroke-width="3"/>
<polygon points="376.8,339.9 381.2,337.7 382.2,338.6 386.1,341.8 391.7,344.7 397.4,345.4 403.0,345.4 408.7,346.8 407.3,350.3 407.3,356.0 405.9,361.6 403.0,364.4 397.4,365.2 393.1,365.9 387.5,364.4 381.8,362.3 377.6,360.2 373.4,357.4 369.1,357.4 366.9,355.3 366.9,353.1 370.2,349.8 374.6,345.4" fill="#9898cc" stroke="#9898cc" stroke-width="3"/>
<polygon points="408.7,343.3 414.3,342.0 421.4,340.5 428.5,339.5 432.1,340.2 435.8,343.8 438.2,347.5 439.4,352.3 435.5,357.4 432.7,361.6 428.5,364.4 424.2,368.7 418.6,370.8 412.9,368.7 408.7,365.9 405.9,361.6 407.3,356.0 407.3,350.3 408.7,346.8" fill="#fcf2fc" stroke="#fcf2fc" stroke-width="3"/>
<polygon points="509.8,366.0 511.1,367.9 511.8,373.2 511.8,375.9 513.8,378.5 515.1,382.5 515.8,387.8 516.4,394.4 515.8,399.7 514.4,405.0 513.1,409.0 512.5,410.5 509.1,409.1 506.5,402.5 502.5,397.2 497.2,394.6 491.0,393.0 489.5,392.6 490.6,386.5 491.9,383.2 495.9,381.2 499.9,378.5 502.5,377.2 506.5,377.2 508.5,375.9 507.8,371.9 507.8,366.6" fill="#ffaaaa" stroke="#ffaaaa" stroke-width="3"/>
<polygon points="489.5,392.6 497.2,394.6 502.5,397.2 506.5,402.5 509.1,409.1 512.5,410.5 512.5,413.0 512.5,418.3 511.8,419.7 512.5,425.0 510.5,429.0 507.8,427.0 505.2,425.0 501.2,423.7 497.2,422.4 498.5,419.7 495.9,418.4 497.2,415.8 493.2,415.1 494.6,414.3 491.9,411.7 493.2,409.0 490.6,405.0 490.6,401.1 489.3,397.1 491.0,393.0" fill="#ffaaaa" stroke="#ffaaaa" stroke-width="3"/>
</g>
<polygon points="210.6,115.7 215.5,117.1 221.2,116.4 226.1,117.8 227.5,121.3 226.8,124.1 229.7,129.8 233.9,135.4 233.2,141.1 230.4,146.7 229.0,150.3 231.8,152.4 233.7,153.0 236.7,153.8 237.4,158.0 233.5,161.4 232.5,162.3 230.2,162.5 228.9,162.6 223.3,163.0 219.8,159.4 219.0,156.6 217.6,153.6 217.0,152.4 217.7,146.7 216.2,138.3 214.1,131.2 213.4,122.7" fill="#ffaaaa"/>
<polygon points="229.7,129.8 233.9,129.1 242.4,130.5 249.4,131.9 256.5,131.2 262.2,128.4 263.0,128.7 265.7,129.8 266.3,137.5 266.4,138.3 267.1,145.3 259.3,148.1 254.2,148.9 249.4,149.6 244.4,150.4 241.0,151.0 237.6,151.9 233.7,153.0 231.8,152.4 229.0,150.3 230.4,146.7 233.2,141.1 233.9,135.4" fill="#fcf2fc"/>
<polygon points="259.9,125.4 263.5,117.6 273.4,113.4 283.3,109.8 293.9,105.6 297.4,108.4 300.2,113.4 301.6,119.0 300.9,124.7 300.2,129.6 294.6,128.9 290.3,130.3 286.1,132.4 280.4,133.1 276.2,131.0 269.1,128.2 265.6,128.5 263.0,128.7 262.2,128.4" fill="#9898cc"/>
<polygon points="265.6,128.5 269.1,128.2 276.2,131.0 280.4,133.1 286.1,132.4 290.3,130.3 294.6,128.9 300.2,129.6 300.2,134.6 299.5,138.0 299.1,140.2 298.8,141.6 298.3,142.0 296.0,143.7 294.6,148.7 291.7,152.0 290.3,153.6 288.3,154.0 283.3,155.0 281.3,155.8 277.6,157.2 276.9,156.9 276.8,156.8 272.0,154.3 269.8,147.8 269.1,145.9 266.4,138.3 266.3,137.5 265.7,129.8" fill="#a8a8ff"/>
<polygon points="298.0,74.8 302.2,72.4 310.8,70.5 313.2,75.3 314.1,79.1 319.0,81.0 324.0,83.0 328.0,86.0 330.0,92.0 328.0,97.0 322.0,98.0 315.0,97.5 308.0,96.5 302.0,95.0 297.5,93.5 297.5,88.6 297.5,81.0" fill="#c89494"/>
<polygon points="310.8,70.5 316.5,68.2 321.2,67.2 322.2,71.5 323.6,74.3 326.0,79.1 328.8,81.0 334.0,83.0 338.0,88.0 342.0,93.0 348.4,95.0 358.3,97.1 360.4,102.1 360.4,107.7 354.0,107.7 344.1,107.0 334.9,108.4 336.6,104.4 330.0,100.0 328.0,97.0 330.0,92.0 328.0,86.0 324.0,83.0 319.0,81.0 314.1,79.1 313.2,75.3" fill="#9898cc"/>
<polygon points="297.5,93.5 302.0,95.0 308.0,96.5 315.0,97.5 322.0,98.0 328.0,97.0 330.0,100.0 336.6,104.4 334.9,108.4 334.2,119.0 325.6,120.4 321.4,122.5 311.5,118.3 301.6,119.0 300.2,113.4 297.4,108.4 294.0,105.6 295.0,101.0 294.5,97.0" fill="#fcf2fc"/>
<polygon points="334.9,108.4 344.1,107.0 354.0,107.7 360.4,107.7 361.2,109.4 361.8,110.5 361.1,117.6 359.7,123.3 359.0,128.9 359.1,129.3 358.7,129.1 355.4,131.0 351.2,132.4 349.8,137.4 348.4,140.2 347.0,145.9 344.1,151.5 341.3,151.5 338.5,148.7 335.7,143.0 333.5,137.4 332.8,133.1 334.9,127.5 334.2,119.0" fill="#c89494"/>
<polygon points="361.2,109.4 369.6,108.4 373.8,105.6 375.2,102.8 377.3,102.8 378.0,110.5 378.7,115.5 382.3,117.6 387.9,119.7 389.3,122.5 384.4,123.8 383.7,124.0 380.9,128.9 376.6,134.6 369.6,133.9 363.9,131.7 359.1,129.3 359.1,129.3 358.7,129.1 359.0,128.9 359.7,123.3 361.1,117.6 361.8,110.5" fill="#ffaaaa"/>
<polygon points="384.4,123.8 389.3,122.5 392.2,125.4 394.1,125.5 398.4,131.2 399.8,138.3 401.2,148.1 401.2,156.6 402.6,165.8 401.3,164.1 399.8,162.3 397.8,163.3 394.1,165.1 388.5,162.3 384.5,160.4 381.6,159.0 381.5,158.2 381.1,155.6 380.9,154.3 380.9,145.9 381.6,137.4 382.3,130.3 380.9,128.9 383.7,124.0" fill="#ffaaaa"/>
<polygon points="394.1,125.5 399.8,124.1 404.7,127.0 405.4,132.6 406.8,139.7 409.7,146.7 415.3,152.4 422.4,155.2 429.4,158.0 433.7,159.4 434.6,161.2 435.0,162.1 435.1,162.3 434.8,162.9 434.6,163.9 433.7,166.5 426.9,165.2 426.6,165.1 418.1,162.3 411.1,166.5 408.1,167.3 406.1,167.9 402.6,165.8 401.2,156.6 401.2,148.1 399.8,138.3 398.4,131.2" fill="#fcf2fc"/>
<polygon points="404.7,127.0 411.1,125.5 416.7,127.0 421.0,132.6 425.2,136.8 429.4,135.4 433.7,138.3 439.3,136.8 443.6,137.5 445.7,141.1 445.0,144.6 439.3,143.9 435.1,141.8 433.0,143.9 433.7,148.1 436.5,152.4 436.5,158.0 435.0,160.5 434.6,161.2 429.4,158.0 422.4,155.2 415.3,152.4 409.7,146.7 406.8,139.7 405.4,132.6" fill="#fcf2fc"/>
<polygon points="435.1,141.8 439.3,143.9 445.0,144.6 453.5,141.8 461.2,143.2 459.1,148.1 457.8,150.0 455.0,154.2 452.9,159.9 450.8,167.0 447.9,176.1 442.3,172.6 436.6,168.4 434.6,163.9 434.8,162.9 434.8,162.9 435.1,162.3 435.1,162.3 435.0,162.1 435.0,160.5 435.0,160.5 436.5,158.0 436.5,152.4 433.7,148.1 433.0,143.9" fill="#ffaaaa"/>
<polygon points="436.6,168.4 442.3,172.6 447.9,176.1 448.6,182.5 449.3,189.6 448.6,196.6 446.5,200.9 439.4,202.3 436.6,198.0 435.9,193.8 433.8,190.3 429.6,190.3 431.7,186.7 433.1,181.1 435.2,174.0" fill="#ffaaaa"/>
<polygon points="429.6,190.3 433.8,190.3 435.9,193.8 436.6,198.0 435.2,200.9 434.6,201.2 432.4,202.3 431.0,198.7 428.9,195.2 429.5,191.0" fill="#ffaaaa"/>
<polygon points="392.8,167.0 397.8,163.3 401.3,164.1 402.6,165.8 406.1,167.9 408.1,167.3 411.1,166.5 418.3,165.5 426.6,165.1 426.9,165.2 434.8,162.9 434.6,161.2 434.6,161.2 435.0,160.5 435.0,162.1 435.0,162.1 435.1,162.3 436.6,168.4 435.2,174.0 433.1,181.1 431.7,186.7 429.6,190.3 428.1,186.7 422.5,185.3 415.4,183.9 411.2,182.5 404.1,183.9 401.3,181.1 398.5,175.4 394.2,169.8" fill="#ffaaaa"/>
<polygon points="404.1,183.9 411.2,182.5 415.4,183.9 422.5,185.3 428.1,186.7 429.6,190.3 429.6,190.3 429.6,190.3 429.5,191.0 428.9,195.2 425.3,198.0 418.3,202.3 411.2,205.1 410.5,205.4 404.1,207.9 398.5,209.3 394.2,205.1 394.9,198.0 397.1,195.2 399.9,191.0 401.3,186.7" fill="#c89494"/>
<polygon points="355.4,131.0 358.7,129.1 358.7,129.1 359.1,129.3 359.0,128.9 359.0,128.9 363.9,131.7 369.6,133.9 376.6,134.6 380.9,128.9 382.3,130.3 381.6,137.4 380.9,145.9 380.9,154.3 381.1,155.6 381.5,158.2 380.6,158.9 374.6,163.3 371.7,162.6 366.1,159.8 361.8,157.7 356.2,159.8 350.5,161.2 343.5,164.0 342.8,157.0 344.1,151.5 347.0,145.9 348.4,140.2 349.8,137.4 351.2,132.4" fill="#fcf2fc"/>
<polygon points="343.5,164.0 350.5,161.2 356.2,159.8 361.8,157.7 366.1,159.8 371.7,162.6 374.6,163.3 374.6,166.8 377.4,172.5 376.0,176.7 377.4,181.0 376.0,181.5 373.1,182.4 372.7,182.5 367.5,183.8 364.4,184.8 363.3,185.2 357.6,186.6 352.0,185.2 349.1,182.4 346.3,178.1 343.5,173.9 342.8,168.3" fill="#ffaaaa"/>
<polygon points="374.6,163.3 380.6,158.9 381.6,159.0 384.5,160.4 388.5,162.3 392.8,167.0 394.2,169.8 398.5,175.4 401.3,181.1 404.1,183.9 401.3,186.7 399.9,191.0 397.1,195.2 394.9,198.0 391.5,196.5 388.7,197.9 384.4,195.1 381.6,190.9 377.4,181.0 376.0,176.7 377.4,172.5 374.6,166.8" fill="#ffaaaa"/>
<polygon points="364.4,184.8 367.5,183.8 372.7,182.5 373.1,182.4 376.0,181.5 377.4,181.0 381.6,190.9 384.4,195.1 388.7,197.9 391.5,196.5 394.9,198.0 394.2,205.1 394.1,207.7 397.0,211.2 395.5,214.8 392.7,219.0 391.3,223.3 381.6,223.8 376.0,224.5 370.3,222.4 364.7,219.6 361.0,217.1 360.4,216.7 360.4,210.4 360.6,208.4 360.7,206.8 361.1,201.2 363.3,195.5 364.7,189.9 364.5,185.7" fill="#ffaaaa"/>
<polygon points="402.6,210.5 410.5,205.4 411.2,205.1 419.6,204.2 428.0,200.7 431.0,198.7 432.3,197.1 432.4,202.3 434.6,201.2 436.6,203.7 435.1,206.3 429.4,213.4 423.8,219.0 421.0,224.7 420.3,227.5 418.1,227.5 412.5,220.4 405.4,214.8" fill="#ffaaaa"/>
<polygon points="397.0,211.2 402.6,210.5 405.4,214.8 412.5,220.4 418.1,227.5 415.3,233.1 413.9,236.0 412.5,241.6 412.0,242.2 408.3,245.9 408.0,246.2 404.7,248.7 402.5,248.1 399.8,247.3 398.9,246.4 395.5,243.0 393.4,240.2 394.1,234.6 395.5,228.9 391.3,223.3 392.7,219.0 395.5,214.8" fill="#fcf2fc"/>
<polygon points="331.0,175.5 333.8,171.5 338.8,170.6 342.8,168.3 343.5,173.9 346.3,178.1 349.1,182.4 352.0,185.2 357.6,186.6 363.3,185.2 364.5,185.7 364.7,189.9 363.3,195.5 361.1,201.2 360.7,206.8 360.6,208.4 359.2,207.8 353.4,205.4 346.3,203.3 340.7,202.6 335.3,201.4 330.6,200.6 329.1,196.7 329.8,192.8 331.4,189.7 333.0,187.3 334.1,185.2 333.0,180.5" fill="#fcf2fc"/>
<polygon points="299.1,140.2 299.5,138.0 300.2,138.2 305.3,139.6 313.4,140.2 320.5,141.2 321.6,144.2 320.5,147.3 315.5,148.3 311.4,150.3 306.3,147.3 304.3,145.2 299.5,142.6 298.3,142.0 298.8,141.6 298.8,141.6" fill="#a8a8ff"/>
<polygon points="298.8,141.6 299.5,142.6 304.3,145.2 306.3,147.3 311.4,150.3 311.4,154.4 308.4,158.4 306.3,161.5 305.3,165.5 304.8,168.8 302.5,165.2 299.0,160.5 296.6,154.7 295.5,150.6 294.6,148.7 296.0,143.7 298.3,142.0 298.3,142.0" fill="#a8a8ff"/>
<polygon points="311.4,150.3 315.5,148.3 320.5,147.3 321.6,150.3 321.6,155.4 318.5,156.9 314.5,155.9 311.4,154.4" fill="#ffffff"/>
<polygon points="308.4,158.4 311.4,154.4 314.5,155.9 318.5,156.9 321.6,155.4 320.0,160.5 319.5,165.5 317.5,170.6 316.6,171.1 311.9,172.3 306.0,173.4 304.8,168.8 305.3,165.5 306.3,161.5" fill="#ffaaaa"/>
<polygon points="320.5,141.2 327.7,142.7 332.7,142.2 333.5,137.4 335.7,143.0 338.5,148.7 341.3,151.5 344.1,151.5 342.8,157.0 343.5,164.0 342.8,168.3 338.8,170.6 333.8,171.5 331.0,175.5 327.7,174.0 325.7,174.3 323.6,174.7 320.1,173.4 316.6,171.1 317.5,170.6 319.5,165.5 320.0,160.5 321.6,155.4 321.6,150.3 320.5,147.3 321.6,144.2" fill="#a8a8ff"/>
<polygon points="276.8,156.8 277.6,157.2 281.3,155.8 283.3,155.0 288.3,154.0 291.7,152.0 294.6,148.7 295.5,150.6 296.6,154.7 299.0,160.5 302.5,165.2 304.8,168.8 306.0,173.4 304.8,178.1 300.2,180.5 295.5,182.8 290.8,184.6 287.3,182.8 283.8,180.5 278.8,180.2 278.1,178.2 276.1,176.9 275.5,173.5 276.1,170.9 278.8,168.2 279.4,164.9 279.1,162.9" fill="#ffaaaa"/>
<polygon points="295.5,182.8 300.2,180.5 304.8,178.1 306.0,173.4 311.9,172.3 316.6,171.1 320.1,173.4 325.7,174.3 331.0,175.5 333.0,180.5 334.1,185.2 333.0,187.3 331.4,189.7 329.8,192.8 329.1,196.7 330.6,200.6 329.1,201.4 329.1,201.4 327.5,202.2 324.4,203.4 322.0,201.4 318.9,199.8 315.8,199.1 312.7,197.9 311.1,196.7 305.6,196.7 301.7,197.1 299.4,195.2 296.3,192.8 294.7,189.7 295.5,185.0" fill="#a8a8ff"/>
<polygon points="136.6,154.2 141.8,151.9 146.6,150.4 152.3,149.5 156.1,148.5 158.0,150.4 161.8,149.0 166.5,147.6 172.5,146.4 178.1,147.1 182.4,147.8 183.8,152.1 186.6,154.9 193.7,155.6 199.3,154.9 205.0,156.3 207.8,157.0 206.4,163.4 203.6,169.0 200.8,173.3 199.3,177.5 200.8,181.7 202.2,187.4 200.8,191.6 198.5,193.1 196.5,194.4 193.7,198.7 192.3,201.5 190.9,202.9 190.8,202.6 190.4,200.4 183.5,197.0 176.6,194.4 171.5,191.8 166.3,188.4 161.1,184.9 154.3,182.3 150.8,183.2 147.4,180.6 143.9,178.0 142.2,174.6 138.5,172.6 135.3,171.5 140.9,172.3 143.7,169.4 140.0,168.5 141.8,167.5 140.0,164.7 144.5,163.8 147.8,163.4 144.5,162.6 140.0,161.8 138.0,159.0" fill="#a8a8ff"/>
<polygon points="207.8,157.0 213.5,155.6 217.6,153.6 219.0,156.6 219.8,159.4 223.3,163.0 228.9,162.6 230.2,162.5 230.1,163.3 228.9,169.7 228.2,176.7 227.5,182.4 225.4,188.0 224.6,189.9 223.1,189.9 218.9,188.5 213.3,189.2 207.6,191.3 201.9,191.5 200.8,191.6 200.8,191.6 202.2,187.4 200.8,181.7 199.3,177.5 200.8,173.3 203.6,169.0 206.4,163.4" fill="#fcf2fc"/>
<polygon points="230.1,163.3 232.5,162.3 233.5,161.4 234.9,161.9 241.6,164.7 245.0,163.0 248.3,163.0 251.0,161.6 252.3,164.3 252.3,168.9 251.6,171.6 249.6,176.2 249.0,180.2 247.3,185.2 245.9,190.9 244.3,189.9 238.7,190.6 231.6,188.5 224.6,189.9 225.4,188.0 227.5,182.4 228.2,176.7 228.9,169.7" fill="#ffaaaa"/>
<polygon points="236.7,153.8 237.6,151.9 241.0,151.0 244.4,150.4 249.4,149.6 254.2,148.9 259.3,148.1 267.1,145.3 269.8,147.8 272.0,154.3 276.9,156.9 277.6,157.2 277.6,157.2 279.1,162.9 279.4,164.9 278.8,168.2 276.1,170.9 275.5,173.5 276.1,176.9 273.5,174.9 271.5,173.5 268.8,172.2 266.9,169.6 265.5,166.3 263.5,165.3 260.2,166.3 257.6,167.9 254.9,168.2 252.3,168.9 252.3,164.3 251.0,161.6 248.3,163.0 245.0,163.0 241.6,164.7 234.9,161.9 237.4,158.0" fill="#ffaaaa"/>
<polygon points="252.3,168.9 254.9,168.2 257.6,167.9 260.2,166.3 263.5,165.3 265.5,166.3 266.9,169.6 268.8,172.2 271.5,173.5 273.5,174.9 276.1,176.9 278.1,178.2 278.8,180.2 276.7,181.0 274.4,185.2 272.0,191.0 271.4,194.7 271.3,195.1 265.8,197.8 265.6,197.9 259.7,196.7 258.7,196.9 258.6,196.5 252.8,195.5 248.6,192.7 245.9,190.9 247.3,185.2 249.0,180.2 249.6,176.2 251.6,171.6" fill="#a8a8ff"/>
<polygon points="201.9,191.5 207.6,191.3 213.3,189.2 218.9,188.5 223.1,189.9 224.6,189.9 224.6,194.1 226.0,198.4 227.4,201.2 230.2,202.6 227.4,205.4 223.1,208.3 221.7,211.1 223.1,215.3 218.9,218.1 214.7,218.1 214.7,222.4 210.4,221.0 204.8,218.1 202.0,213.9 197.7,211.1 200.5,208.3 194.9,206.8 190.9,202.9 190.8,202.6 192.3,201.5 193.8,198.6 198.5,193.1 200.8,191.6 200.8,191.6 200.8,191.6" fill="#a8a8ff"/>
<polygon points="224.6,189.9 231.6,188.5 238.7,190.6 244.3,189.9 245.9,190.9 248.6,192.7 252.8,195.5 258.6,196.5 258.7,196.9 258.7,196.9 259.9,201.2 258.5,205.4 255.6,211.1 254.2,215.3 251.4,218.1 245.8,216.7 238.7,219.6 231.6,219.6 226.0,218.1 223.1,215.3 221.7,211.1 223.1,208.3 227.4,205.4 230.2,202.6 227.4,201.2 226.0,198.4 224.6,194.1" fill="#ffaaaa"/>
<polygon points="301.6,119.0 311.5,118.3 321.4,122.5 325.6,120.4 334.2,119.0 334.9,127.5 332.8,133.1 333.5,137.4 332.7,142.2 327.7,142.7 320.5,141.2 313.4,140.2 305.3,139.6 300.2,138.2 300.2,134.6 300.2,129.6 300.9,124.7" fill="#fcf2fc"/>
<polygon points="258.7,196.9 258.6,196.5 258.6,196.5 259.7,196.7 265.6,197.9 265.8,197.8 271.3,195.1 271.3,195.1 271.4,194.7 272.6,194.9 278.3,195.6 282.5,198.5 282.5,204.1 285.3,208.4 288.1,212.6 288.1,214.0 288.1,214.0 288.1,216.8 285.3,219.7 281.1,225.3 278.3,231.0 275.4,228.1 272.6,222.5 267.0,221.8 261.3,221.1 257.1,216.8 254.2,215.3 255.6,211.1 258.5,205.4 259.9,201.2" fill="#fcf2fc"/>
<polygon points="278.8,180.2 283.8,180.5 287.3,182.8 290.8,184.6 295.5,182.8 295.5,185.0 294.7,189.7 296.3,192.8 299.4,195.2 301.7,197.1 305.6,196.7 311.1,196.7 312.7,197.9 310.3,199.8 311.1,203.0 311.9,206.1 309.5,210.0 306.0,213.5 303.7,214.0 298.0,212.6 292.4,211.9 288.1,214.0 288.1,212.6 285.3,208.4 282.5,204.1 282.5,198.5 278.3,195.6 272.6,194.9 271.3,195.1 271.4,194.7 271.4,194.7 272.0,191.0 274.4,185.2 276.7,181.0" fill="#fcf2fc"/>
<polygon points="312.7,197.9 315.8,199.1 318.9,199.8 322.0,201.4 324.4,203.4 327.5,202.2 329.1,201.4 329.8,205.3 330.6,208.4 331.2,215.4 333.4,222.5 332.0,229.6 330.8,230.7 329.1,232.4 327.3,232.8 322.1,233.8 316.4,238.0 314.1,240.7 313.9,240.5 312.2,242.3 310.8,243.7 308.6,241.6 307.9,240.9 309.3,232.4 307.9,223.9 306.5,218.3 303.7,214.0 306.0,213.5 309.5,210.0 311.9,206.1 311.1,203.0 310.3,199.8" fill="#a8a8ff"/>
<polygon points="288.1,214.0 292.4,211.9 298.0,212.6 303.7,214.0 306.5,218.3 307.9,223.9 309.3,232.4 307.9,240.9 310.8,243.7 308.6,241.6 307.8,241.9 302.3,243.7 296.6,243.0 291.0,244.4 288.8,244.1 285.3,243.7 282.5,240.9 281.1,236.6 278.3,231.0 281.1,225.3 285.3,219.7 288.1,216.8" fill="#fcf2fc"/>
<polygon points="329.8,205.3 329.1,201.4 330.6,200.6 335.3,201.4 340.7,202.6 346.3,203.3 353.4,205.4 359.2,207.8 360.4,210.4 360.4,216.7 358.0,220.0 356.8,223.7 356.0,226.0 352.0,230.0 348.1,232.3 348.2,232.6 347.0,233.0 345.3,232.8 341.4,232.2 340.0,232.0 335.5,231.2 334.0,231.0 332.0,229.6 333.4,222.5 331.2,215.4 330.6,208.4" fill="#fcf2fc"/>
<polygon points="199.2,216.0 202.0,213.9 204.8,218.1 210.4,221.0 214.7,222.4 214.7,218.1 218.9,218.1 223.1,215.3 226.0,218.1 231.6,219.6 233.0,222.4 236.0,225.0 237.4,230.7 236.0,236.3 237.4,242.0 237.4,243.4 233.1,246.2 227.5,244.1 221.8,244.8 219.0,243.4 213.4,240.5 207.7,236.3 203.5,230.7 199.2,225.0" fill="#fcf2fc"/>
<polygon points="231.6,219.6 238.7,219.6 245.8,216.7 251.4,218.1 254.2,215.3 252.8,222.4 254.2,228.0 252.9,232.1 254.3,239.1 255.8,244.8 257.2,250.4 254.3,254.7 250.1,257.5 245.9,254.7 240.2,250.4 234.6,247.6 237.4,243.4 237.4,242.0 236.0,236.3 237.4,230.7 236.0,225.0 233.0,222.4" fill="#ffaaaa"/>
<polygon points="254.2,215.3 257.1,216.8 261.3,221.1 267.0,221.8 272.6,222.5 275.4,228.1 278.3,231.0 281.1,236.6 282.5,240.9 281.3,245.9 281.1,246.5 277.4,247.7 276.0,253.4 273.9,255.5 273.1,256.2 270.3,254.8 263.3,256.2 257.6,256.2 257.2,250.4 255.8,244.8 254.3,239.1 252.9,232.1 254.2,228.0 252.8,222.4" fill="#fcf2fc"/>
<polygon points="221.8,244.8 227.5,244.1 233.1,246.2 234.6,247.6 240.2,250.4 245.9,254.7 250.1,257.5 248.7,261.7 247.3,266.0 243.0,270.2 243.0,275.9 245.9,281.5 248.7,285.8 250.1,289.0 246.0,292.0 240.0,291.0 237.4,289.0 233.1,282.9 232.6,282.2 230.5,278.9 230.3,278.7 227.8,276.2 226.1,274.4 223.4,272.9 221.1,271.6 220.4,267.4 217.6,263.1 217.6,258.9 220.4,256.1 223.3,253.3 219.0,246.2" fill="#ffaaaa"/>
<polygon points="250.1,257.5 254.3,254.7 257.6,256.2 263.3,256.2 270.3,254.8 273.1,256.2 273.9,255.5 274.3,256.3 276.0,260.4 273.1,266.1 271.0,271.7 268.9,274.6 266.1,280.2 263.3,284.4 260.4,288.7 255.0,290.0 253.1,289.6 250.1,289.0 248.7,285.8 245.9,281.5 243.0,275.9 243.0,270.2 247.3,266.0 248.7,261.7" fill="#fcf2fc"/>
<polygon points="276.0,253.4 277.4,247.7 281.1,246.5 281.3,245.9 282.8,245.5 288.8,244.1 289.0,244.8 290.8,250.5 292.9,257.6 295.8,263.3 297.2,267.5 291.5,270.3 287.3,276.0 281.6,277.4 277.4,276.0 273.1,273.1 271.0,271.7 273.1,266.1 276.0,260.4 274.3,256.3" fill="#fcf2fc"/>
<polygon points="282.5,240.9 285.3,243.7 288.8,244.1 288.8,244.1 291.0,244.4 296.6,243.0 302.3,243.7 307.8,241.9 310.8,243.7 312.2,242.3 313.9,240.5 314.1,240.7 314.1,240.7 317.0,243.5 319.1,249.9 319.8,252.0 321.2,259.0 319.8,266.1 317.0,269.6 311.3,270.3 304.2,268.9 297.2,267.5 297.2,267.5 295.8,263.3 292.9,257.6 290.8,250.5 289.0,244.8 282.8,245.5" fill="#fcf2fc"/>
<polygon points="287.3,276.0 291.5,270.3 297.2,267.5 304.2,268.9 311.3,270.3 317.0,269.6 318.4,274.6 319.1,277.5 319.2,277.5 319.8,280.2 317.0,285.9 314.1,291.5 308.5,295.8 302.8,295.8 297.2,294.3 291.5,291.5 287.3,288.7 285.9,283.0 285.9,278.8" fill="#a8a8ff"/>
<polygon points="361.0,217.1 362.4,212.8 364.7,219.6 370.3,222.4 376.0,224.5 381.6,223.8 391.3,223.3 395.5,228.9 394.1,234.6 393.4,240.2 391.3,241.6 387.8,242.5 382.2,242.5 380.8,245.3 379.4,251.9 379.3,252.4 377.0,251.1 375.0,250.0 374.1,249.9 370.1,249.3 370.1,249.3 368.5,249.1 368.3,249.0 368.0,249.0 365.8,248.2 362.0,247.0 356.7,243.9 353.9,241.1 349.7,236.8 348.2,232.6 348.2,232.6 348.1,232.3 351.8,230.1 356.7,229.8 356.8,223.7" fill="#a8a8ff"/>
<polygon points="322.1,233.8 327.3,232.8 329.1,232.4 330.8,230.7 332.0,229.6 334.0,231.0 335.5,231.2 340.0,232.0 341.4,232.2 345.3,232.8 347.0,233.0 348.1,232.3 348.1,232.3 348.2,232.6 349.7,236.8 353.9,241.1 356.7,243.9 355.3,248.1 356.0,250.7 354.6,256.3 353.1,260.5 351.7,260.5 347.5,259.1 340.4,257.7 332.0,256.3 329.1,252.1 325.7,251.0 319.9,250.0 319.1,249.9 317.0,243.5 314.1,240.7 313.9,240.5 313.9,240.5 316.4,238.0 322.1,233.8" fill="#9898cc"/>
<polygon points="319.9,250.0 325.7,251.0 329.1,252.1 332.0,256.3 340.4,257.7 347.5,259.1 351.7,260.5 353.1,260.5 354.6,266.2 356.0,273.3 356.0,278.9 353.1,281.7 347.5,282.4 340.4,283.1 336.2,284.6 329.1,283.1 323.5,280.3 319.1,277.5 318.4,274.6 317.0,269.6 319.8,266.1 321.2,259.0 319.8,252.0" fill="#fcf2fc"/>
<polygon points="356.7,243.9 362.0,247.0 365.8,248.2 368.0,249.0 368.5,249.1 370.1,249.3 368.7,253.5 367.3,259.1 368.7,266.2 372.9,270.4 377.2,274.7 380.0,277.5 377.2,281.7 374.3,284.6 371.5,283.1 367.3,284.6 363.0,286.0 358.8,286.0 356.0,281.7 356.0,278.9 356.0,273.3 354.6,266.2 353.1,260.5 354.6,256.3 356.0,250.7 355.3,248.1" fill="#a8a8ff"/>
<polygon points="368.3,249.0 368.0,249.0 368.0,249.0 374.1,249.9 375.0,250.0 377.0,251.1 378.6,256.3 382.8,260.5 387.1,266.2 388.5,269.0 384.2,271.8 381.4,276.1 380.0,277.5 377.2,274.7 372.9,270.4 368.7,266.2 367.3,259.1 368.7,253.5 370.1,249.3" fill="#9898cc"/>
<polygon points="380.8,245.3 382.2,242.5 387.2,240.2 391.3,241.6 393.5,244.1 398.9,246.4 399.8,247.3 402.5,248.1 408.0,246.2 408.3,245.9 412.0,242.2 414.7,245.7 414.3,246.6 412.3,250.4 409.2,253.5 408.7,255.4 407.9,258.5 407.6,259.8 407.1,261.1 407.6,261.4 406.0,264.5 402.9,269.2 401.3,272.3 398.2,267.6 395.1,264.5 390.4,262.9 387.1,266.2 382.8,260.5 378.6,256.3 379.3,252.4 379.4,251.9" fill="#ffaaaa"/>
<polygon points="336.2,284.6 340.4,283.1 347.5,282.4 353.1,281.7 356.0,281.7 358.8,286.0 363.0,286.0 367.3,284.6 371.5,283.1 374.3,284.6 372.9,287.4 371.5,290.2 370.7,291.4 368.7,294.4 367.6,295.5 364.4,298.7 357.4,301.5 349.4,302.8 348.9,302.9 346.2,300.2 346.1,300.1 343.3,297.3 342.4,295.7 342.5,295.7 340.4,291.6 337.6,287.4" fill="#ffaaaa"/>
<polygon points="317.0,285.9 319.8,280.2 318.4,274.6 319.2,277.5 323.5,280.3 329.1,283.1 336.2,284.6 337.6,287.4 340.4,291.6 342.5,295.7 339.6,299.9 336.7,304.1 332.5,304.1 329.7,302.7 326.8,299.9 321.2,302.7 314.1,309.8 309.9,311.2 308.4,308.3 306.9,301.2 308.5,295.8 314.1,291.5" fill="#ffaaaa"/>
<polygon points="408.7,255.4 409.2,253.5 412.3,250.4 414.3,246.6 414.7,245.7 417.0,244.9 420.2,243.3 426.4,242.5 431.1,243.3 432.7,247.2 432.7,251.9 435.8,255.1 439.0,259.8 435.8,262.9 432.7,264.5 429.6,266.0 426.4,264.5 424.9,267.6 420.2,269.2 417.0,267.6 413.9,264.5 407.6,261.4 407.6,261.4 407.1,261.1 407.6,259.8 407.9,258.5" fill="#ffaaaa"/>
<polygon points="406.0,264.5 407.1,261.1 407.1,261.1 407.6,261.4 413.9,264.5 417.0,267.6 420.2,269.2 424.9,267.6 426.4,264.5 429.6,266.0 432.7,264.5 435.8,262.9 439.0,259.8 437.4,266.0 439.0,270.8 442.1,277.0 443.7,281.7 440.5,286.4 432.7,289.6 428.0,291.1 426.6,291.6 423.3,292.7 419.9,290.5 418.6,289.6 417.0,284.9 412.3,278.6 407.6,277.0 404.5,275.5 402.9,269.2" fill="#a8a8ff"/>
<polygon points="387.1,266.2 390.4,262.9 395.1,264.5 398.2,267.6 401.3,272.3 402.9,269.2 404.5,275.5 407.6,277.0 412.3,278.6 417.0,284.9 418.6,289.6 419.9,290.5 419.9,290.5 423.3,292.7 421.0,297.5 417.5,302.2 410.5,304.5 405.3,305.4 402.2,306.6 399.7,301.2 398.3,294.1 397.2,293.6 392.7,291.6 389.8,292.7 388.5,287.4 381.4,287.4 380.1,284.8 380.0,284.6 377.2,281.7 380.0,277.5 381.4,276.1 384.2,271.8 388.5,269.0" fill="#a8a8ff"/>
<polygon points="251.8,292.7 252.0,292.2 252.2,291.7 253.1,289.6 258.9,287.1 260.4,288.7 263.3,284.4 266.1,280.2 268.9,274.6 271.0,271.7 273.1,273.1 277.4,276.0 281.6,277.4 287.3,276.0 285.9,278.8 285.9,283.0 287.3,288.7 288.6,294.1 290.0,297.0 284.3,299.8 282.9,305.4 280.1,311.1 275.9,311.1 271.6,309.7 267.4,311.1 261.7,311.1 258.9,306.1 256.1,304.0 254.8,303.6 251.8,302.6 252.9,298.5 253.3,297.0" fill="#fcf2fc"/>
<polygon points="284.3,299.8 290.0,297.0 291.5,291.5 297.2,294.3 302.8,295.8 308.5,295.8 306.9,301.2 308.4,308.3 304.1,315.3 301.3,319.6 300.0,323.5 298.4,324.0 295.1,324.6 293.1,324.0 290.5,325.3 287.8,326.0 285.2,325.3 281.9,324.0 280.5,322.0 277.3,318.1 280.1,311.1 282.9,305.4" fill="#ffaaaa"/>
<polygon points="258.9,306.1 261.7,311.1 267.4,311.1 271.6,309.7 275.9,311.1 280.1,311.1 277.3,318.1 275.2,322.0 274.6,326.0 273.3,329.3 271.3,331.3 264.6,332.3 257.5,333.7 251.8,332.3 247.6,328.0 246.2,325.2 247.6,322.4 249.0,316.7 250.4,311.1 254.7,308.3" fill="#a8a8ff"/>
<polygon points="275.2,322.0 280.5,322.0 281.9,324.0 285.2,325.3 287.8,326.0 290.5,325.3 293.1,324.0 295.1,324.6 298.4,324.0 300.0,323.5 301.3,326.0 299.1,329.3 296.4,330.6 295.1,331.9 293.8,333.9 294.5,336.6 292.5,337.9 289.8,339.2 287.2,340.5 283.9,342.5 281.2,343.2 277.9,343.2 275.2,342.5 274.6,340.5 273.3,338.6 271.3,336.6 271.9,333.9 271.3,331.3 273.3,329.3 274.6,326.0" fill="#ffaaaa"/>
<polygon points="223.4,272.9 226.1,274.4 227.8,276.2 230.3,278.7 230.5,278.9 232.6,282.2 233.1,282.9 238.1,284.1 242.4,285.5 246.6,288.4 252.2,291.7 252.0,292.2 251.8,292.7 253.3,297.0 252.9,298.5 254.8,303.6 256.1,304.0 258.9,306.1 254.7,308.3 250.4,311.1 249.0,316.7 247.6,322.4 246.2,325.2 242.4,325.1 238.1,322.3 235.3,318.0 231.1,315.2 224.0,313.8 217.0,313.8 217.7,309.6 218.4,303.9 219.8,295.4 221.2,284.1" fill="#9898cc"/>
<polygon points="222.6,274.2 226.0,275.0 229.0,278.0 232.5,285.5 231.0,284.0 227.0,280.0 223.0,277.0" fill="#ffffff"/>
<polygon points="217.0,313.8 224.0,313.8 231.1,315.2 235.3,318.0 238.1,322.3 242.4,325.1 246.2,325.2 247.6,328.0 251.8,332.3 253.0,334.8 248.8,336.2 244.6,337.6 243.1,343.3 244.6,348.9 240.3,350.3 233.3,349.6 226.2,350.3 219.1,351.7 213.5,350.3 206.4,351.7 203.5,352.0 206.5,348.0 208.5,343.0 210.9,336.2 213.5,323.0 217.0,313.8" fill="#a8a8ff"/>
<polygon points="203.5,352.0 206.4,351.7 213.5,350.3 219.1,351.7 226.2,350.3 233.3,349.6 240.3,350.3 244.6,348.9 247.4,353.1 248.8,358.8 247.4,363.0 246.0,367.3 244.6,371.5 243.7,377.5 240.0,378.8 232.5,375.5 225.0,372.0 218.0,369.5 210.9,365.4 205.6,360.5 201.8,356.5" fill="#fcf2fc"/>
<polygon points="247.4,353.1 251.6,356.0 257.3,357.4 261.5,358.8 265.8,361.6 264.3,367.3 262.9,371.5 263.5,377.0 263.4,377.3 262.0,383.0 261.2,383.3 260.0,383.8 255.0,383.0 250.0,381.3 243.7,377.5 244.6,371.5 246.0,367.3 247.4,363.0 248.8,358.8" fill="#a8a8ff"/>
<polygon points="244.6,337.6 248.8,336.2 253.0,334.8 251.8,332.3 257.5,333.7 264.6,332.3 271.3,331.3 271.9,333.9 271.3,336.6 273.3,338.6 274.6,340.5 275.2,342.5 277.2,345.2 279.2,347.8 281.2,350.5 278.5,354.6 272.8,357.4 267.2,358.8 265.8,361.6 261.5,358.8 257.3,357.4 251.6,356.0 247.4,353.1 244.6,348.9 243.1,343.3" fill="#fcf2fc"/>
<polygon points="294.5,336.6 293.8,333.9 295.1,331.9 296.4,330.6 299.1,329.3 302.4,328.5 308.0,329.9 313.7,331.3 317.9,335.5 322.2,342.6 326.0,347.6 321.6,350.9 319.4,356.4 316.5,356.7 309.4,358.1 302.4,356.7 298.1,353.9 299.7,352.0 298.4,348.5 297.1,344.5 295.8,340.5" fill="#ffaaaa"/>
<polygon points="275.2,342.5 277.9,343.2 281.2,343.2 283.9,342.5 287.2,340.5 289.8,339.2 292.5,337.9 294.5,336.6 295.8,340.5 297.1,344.5 298.4,348.5 299.7,352.0 298.1,353.9 297.2,357.8 295.6,360.9 290.9,359.4 286.3,362.5 278.4,365.6 276.9,368.8 273.8,373.4 272.2,378.1 272.2,379.7 267.5,382.8 262.0,383.0 261.2,383.3 263.4,377.3 263.5,377.0 262.9,371.5 264.3,367.3 265.8,361.6 267.2,358.8 272.8,357.4 278.5,354.6 281.2,350.5 279.2,347.8 277.2,345.2" fill="#9898cc"/>
<polygon points="272.2,379.7 272.2,378.1 273.8,373.4 276.9,368.8 278.4,365.6 286.3,362.5 290.9,359.4 295.6,360.9 297.2,357.8 300.3,365.6 301.9,373.4 303.4,381.3 308.1,384.4 307.7,384.7 305.0,386.7 301.5,387.6 298.8,388.3 292.5,387.5 286.3,384.4 278.4,381.3" fill="#ffaaaa"/>
<polygon points="298.1,353.9 302.4,356.7 309.4,358.1 316.5,356.7 319.4,356.4 320.5,362.0 323.8,363.1 328.2,364.2 334.9,365.3 337.1,366.4 334.5,370.0 333.1,373.4 332.3,378.9 326.9,377.3 320.6,378.9 314.4,380.5 308.1,384.4 307.7,384.7 307.7,384.7 303.4,381.3 301.9,373.4 300.3,365.6 297.2,357.8" fill="#fcf2fc"/>
<polygon points="296.4,390.6 301.5,387.6 307.7,384.7 308.1,384.4 308.1,384.4 314.4,380.5 320.6,378.9 326.9,377.3 332.3,378.9 333.1,384.4 333.1,390.6 336.3,393.8 331.6,395.3 325.3,396.9 320.6,397.7 314.4,396.9 306.6,395.3 300.3,394.5 297.2,392.2" fill="#fcf2fc"/>
<polygon points="309.9,311.2 314.1,309.8 321.2,302.7 326.8,299.9 329.7,302.7 332.5,304.1 333.9,311.2 335.3,318.3 338.1,325.3 342.4,329.6 341.5,332.1 342.6,336.6 340.4,339.9 337.1,342.1 332.7,344.3 326.0,347.6 322.2,342.6 317.9,335.5 313.7,331.3 308.0,329.9 302.4,328.5 301.3,326.0 300.0,323.5 301.3,319.6 304.1,315.3 308.4,308.3" fill="#ffaaaa"/>
<polygon points="332.5,304.1 336.7,304.1 339.6,299.9 342.4,295.7 343.3,297.3 346.1,300.1 346.2,300.2 348.9,302.9 349.4,302.8 353.7,304.1 356.5,305.5 357.9,311.2 356.5,318.3 356.6,318.6 357.9,323.9 355.1,328.1 352.1,329.2 352.1,329.2 350.9,329.6 349.4,330.1 346.6,331.0 343.7,330.0 342.4,329.6 338.1,325.3 335.3,318.3 333.9,311.2" fill="#ffaaaa"/>
<polygon points="370.7,291.4 371.5,290.2 372.9,287.4 374.3,284.6 377.2,281.7 380.0,284.6 380.1,284.8 380.1,284.8 381.4,287.4 381.9,291.4 380.5,297.1 379.1,304.1 377.7,311.2 379.1,318.3 377.8,322.2 377.8,322.2 377.7,322.5 376.5,326.1 376.3,326.7 372.1,323.9 366.4,322.5 362.2,321.1 357.6,319.1 356.6,318.6 356.5,318.3 357.9,311.2 356.5,305.5 359.3,304.1 363.6,301.3 367.6,295.5 368.7,294.4" fill="#fcf2fc"/>
<polygon points="357.6,319.1 362.2,321.1 366.4,322.5 372.1,323.9 376.3,326.7 376.5,326.1 377.9,329.6 379.0,332.1 380.3,335.4 381.2,337.7 376.8,339.9 374.6,345.4 370.2,349.8 366.9,353.1 364.7,353.1 361.4,352.0 363.6,350.9 363.6,346.5 359.2,342.1 355.9,336.6 355.5,333.0 352.1,329.2 355.1,328.1 357.9,323.9" fill="#9898cc"/>
<polygon points="321.6,350.9 326.0,347.6 332.7,344.3 337.1,342.1 340.4,339.9 342.6,336.6 341.5,332.1 343.7,330.0 349.4,330.1 350.9,329.6 352.1,329.2 355.5,333.0 355.9,336.6 359.2,342.1 363.6,346.5 363.6,350.9 361.4,352.0 357.0,353.1 351.4,356.4 345.9,359.7 340.4,363.1 337.1,366.4 334.9,365.3 328.2,364.2 323.8,363.1 320.5,362.0 319.4,356.4" fill="#9898cc"/>
<polygon points="380.1,284.8 380.0,284.6 380.0,284.6 381.4,287.4 388.5,287.4 389.8,292.7 392.7,291.6 397.2,293.6 398.3,294.1 399.7,301.2 402.2,306.6 405.3,305.4 403.9,309.7 399.7,315.3 400.7,319.4 401.1,321.0 398.3,325.2 391.2,326.6 387.0,323.8 384.1,321.0 377.8,322.2 377.7,322.5 379.1,318.3 377.7,311.2 379.1,304.1 380.5,297.1 381.9,291.4" fill="#fcf2fc"/>
<polygon points="405.3,305.4 410.5,304.5 417.5,302.2 421.0,297.5 419.9,290.5 423.3,292.7 426.6,291.6 430.8,294.1 432.2,298.4 436.4,301.2 440.6,305.4 437.8,308.3 435.0,311.1 430.8,313.9 426.5,315.3 420.9,316.7 415.2,318.1 411.0,321.0 408.1,323.8 403.9,322.4 400.7,319.4 399.7,315.3 403.9,309.7" fill="#fcf2fc"/>
<polygon points="401.1,321.0 403.9,322.4 408.1,323.8 411.0,321.0 415.2,318.1 420.9,316.7 426.5,315.3 430.8,313.9 435.0,311.1 437.8,308.3 437.6,314.0 437.6,319.0 433.3,324.4 432.1,328.1 434.6,331.7 438.2,335.3 434.6,337.8 432.1,340.2 428.5,339.5 421.4,340.5 414.3,342.0 408.7,343.3 405.3,336.5 402.5,330.9 402.5,326.6 398.3,325.2" fill="#fcf2fc"/>
<polygon points="437.6,319.0 440.6,322.0 444.3,324.4 449.1,326.2 452.8,327.5 456.4,326.2 458.8,325.0 460.0,327.5 460.0,330.5 457.6,334.1 456.4,337.8 454.0,340.2 451.6,342.6 447.9,345.0 444.3,347.5 440.6,351.1 439.4,352.3 438.2,347.5 435.8,343.8 432.1,340.2 434.6,337.8 438.2,335.3 434.6,331.7 432.1,328.1 433.3,324.4" fill="#fcf2fc"/>
<polygon points="377.8,322.2 383.3,323.5 387.0,323.8 391.2,326.6 398.3,325.2 402.5,326.6 402.5,330.9 405.3,336.5 408.7,343.3 408.7,346.8 403.0,345.4 397.4,345.4 391.7,344.7 386.1,341.8 382.2,338.6 381.2,337.7 376.8,339.9 380.3,335.4 379.0,332.1 377.9,329.6 377.7,322.5 377.7,322.5" fill="#fcf2fc"/>
<polygon points="376.8,339.9 381.2,337.7 382.2,338.6 386.1,341.8 391.7,344.7 397.4,345.4 403.0,345.4 408.7,346.8 407.3,350.3 407.3,356.0 405.9,361.6 403.0,364.4 397.4,365.2 393.1,365.9 387.5,364.4 381.8,362.3 377.6,360.2 373.4,357.4 369.1,357.4 366.9,355.3 366.9,353.1 370.2,349.8 374.6,345.4" fill="#9898cc"/>
<polygon points="408.7,343.3 414.3,342.0 421.4,340.5 428.5,339.5 432.1,340.2 435.8,343.8 438.2,347.5 439.4,352.3 435.5,357.4 432.7,361.6 428.5,364.4 424.2,368.7 418.6,370.8 412.9,368.7 408.7,365.9 405.9,361.6 407.3,356.0 407.3,350.3 408.7,346.8" fill="#fcf2fc"/>
<polygon points="509.8,366.0 511.1,367.9 511.8,373.2 511.8,375.9 513.8,378.5 515.1,382.5 515.8,387.8 516.4,394.4 515.8,399.7 514.4,405.0 513.1,409.0 512.5,410.5 509.1,409.1 506.5,402.5 502.5,397.2 497.2,394.6 491.0,393.0 489.5,392.6 490.6,386.5 491.9,383.2 495.9,381.2 499.9,378.5 502.5,377.2 506.5,377.2 508.5,375.9 507.8,371.9 507.8,366.6" fill="#ffaaaa"/>
<polygon points="489.5,392.6 497.2,394.6 502.5,397.2 506.5,402.5 509.1,409.1 512.5,410.5 512.5,413.0 512.5,418.3 511.8,419.7 512.5,425.0 510.5,429.0 507.8,427.0 505.2,425.0 501.2,423.7 497.2,422.4 498.5,419.7 495.9,418.4 497.2,415.8 493.2,415.1 494.6,414.3 491.9,411.7 493.2,409.0 490.6,405.0 490.6,401.1 489.3,397.1 491.0,393.0" fill="#ffaaaa"/>
</g>
<g stroke="#8a8a8a" stroke-width="0.75" stroke-linejoin="round">
<polygon points="210.6,115.7 215.5,117.1 221.2,116.4 226.1,117.8 227.5,121.3 226.8,124.1 229.7,129.8 233.9,135.4 233.2,141.1 230.4,146.7 229.0,150.3 231.8,152.4 233.7,153.0 236.7,153.8 237.4,158.0 233.5,161.4 232.5,162.3 230.2,162.5 228.9,162.6 223.3,163.0 219.8,159.4 219.0,156.6 217.6,153.6 217.0,152.4 217.7,146.7 216.2,138.3 214.1,131.2 213.4,122.7" fill="none"/>
<polygon points="229.7,129.8 233.9,129.1 242.4,130.5 249.4,131.9 256.5,131.2 262.2,128.4 263.0,128.7 265.7,129.8 266.3,137.5 266.4,138.3 267.1,145.3 259.3,148.1 254.2,148.9 249.4,149.6 244.4,150.4 241.0,151.0 237.6,151.9 233.7,153.0 231.8,152.4 229.0,150.3 230.4,146.7 233.2,141.1 233.9,135.4" fill="none"/>
<polygon points="259.9,125.4 263.5,117.6 273.4,113.4 283.3,109.8 293.9,105.6 297.4,108.4 300.2,113.4 301.6,119.0 300.9,124.7 300.2,129.6 294.6,128.9 290.3,130.3 286.1,132.4 280.4,133.1 276.2,131.0 269.1,128.2 265.6,128.5 263.0,128.7 262.2,128.4" fill="none"/>
<polygon points="265.6,128.5 269.1,128.2 276.2,131.0 280.4,133.1 286.1,132.4 290.3,130.3 294.6,128.9 300.2,129.6 300.2,134.6 299.5,138.0 299.1,140.2 298.8,141.6 298.3,142.0 296.0,143.7 294.6,148.7 291.7,152.0 290.3,153.6 288.3,154.0 283.3,155.0 281.3,155.8 277.6,157.2 276.9,156.9 276.8,156.8 272.0,154.3 269.8,147.8 269.1,145.9 266.4,138.3 266.3,137.5 265.7,129.8" fill="none"/>
<polygon points="298.0,74.8 302.2,72.4 310.8,70.5 313.2,75.3 314.1,79.1 319.0,81.0 324.0,83.0 328.0,86.0 330.0,92.0 328.0,97.0 322.0,98.0 315.0,97.5 308.0,96.5 302.0,95.0 297.5,93.5 297.5,88.6 297.5,81.0" fill="none"/>
<polygon points="310.8,70.5 316.5,68.2 321.2,67.2 322.2,71.5 323.6,74.3 326.0,79.1 328.8,81.0 334.0,83.0 338.0,88.0 342.0,93.0 348.4,95.0 358.3,97.1 360.4,102.1 360.4,107.7 354.0,107.7 344.1,107.0 334.9,108.4 336.6,104.4 330.0,100.0 328.0,97.0 330.0,92.0 328.0,86.0 324.0,83.0 319.0,81.0 314.1,79.1 313.2,75.3" fill="none"/>
<polygon points="297.5,93.5 302.0,95.0 308.0,96.5 315.0,97.5 322.0,98.0 328.0,97.0 330.0,100.0 336.6,104.4 334.9,108.4 334.2,119.0 325.6,120.4 321.4,122.5 311.5,118.3 301.6,119.0 300.2,113.4 297.4,108.4 294.0,105.6 295.0,101.0 294.5,97.0" fill="none"/>
<polygon points="334.9,108.4 344.1,107.0 354.0,107.7 360.4,107.7 361.2,109.4 361.8,110.5 361.1,117.6 359.7,123.3 359.0,128.9 359.1,129.3 358.7,129.1 355.4,131.0 351.2,132.4 349.8,137.4 348.4,140.2 347.0,145.9 344.1,151.5 341.3,151.5 338.5,148.7 335.7,143.0 333.5,137.4 332.8,133.1 334.9,127.5 334.2,119.0" fill="none"/>
<polygon points="361.2,109.4 369.6,108.4 373.8,105.6 375.2,102.8 377.3,102.8 378.0,110.5 378.7,115.5 382.3,117.6 387.9,119.7 389.3,122.5 384.4,123.8 383.7,124.0 380.9,128.9 376.6,134.6 369.6,133.9 363.9,131.7 359.1,129.3 359.1,129.3 358.7,129.1 359.0,128.9 359.7,123.3 361.1,117.6 361.8,110.5" fill="none"/>
<polygon points="384.4,123.8 389.3,122.5 392.2,125.4 394.1,125.5 398.4,131.2 399.8,138.3 401.2,148.1 401.2,156.6 402.6,165.8 401.3,164.1 399.8,162.3 397.8,163.3 394.1,165.1 388.5,162.3 384.5,160.4 381.6,159.0 381.5,158.2 381.1,155.6 380.9,154.3 380.9,145.9 381.6,137.4 382.3,130.3 380.9,128.9 383.7,124.0" fill="none"/>
<polygon points="394.1,125.5 399.8,124.1 404.7,127.0 405.4,132.6 406.8,139.7 409.7,146.7 415.3,152.4 422.4,155.2 429.4,158.0 433.7,159.4 434.6,161.2 435.0,162.1 435.1,162.3 434.8,162.9 434.6,163.9 433.7,166.5 426.9,165.2 426.6,165.1 418.1,162.3 411.1,166.5 408.1,167.3 406.1,167.9 402.6,165.8 401.2,156.6 401.2,148.1 399.8,138.3 398.4,131.2" fill="none"/>
<polygon points="404.7,127.0 411.1,125.5 416.7,127.0 421.0,132.6 425.2,136.8 429.4,135.4 433.7,138.3 439.3,136.8 443.6,137.5 445.7,141.1 445.0,144.6 439.3,143.9 435.1,141.8 433.0,143.9 433.7,148.1 436.5,152.4 436.5,158.0 435.0,160.5 434.6,161.2 429.4,158.0 422.4,155.2 415.3,152.4 409.7,146.7 406.8,139.7 405.4,132.6" fill="none"/>
<polygon points="435.1,141.8 439.3,143.9 445.0,144.6 453.5,141.8 461.2,143.2 459.1,148.1 457.8,150.0 455.0,154.2 452.9,159.9 450.8,167.0 447.9,176.1 442.3,172.6 436.6,168.4 434.6,163.9 434.8,162.9 434.8,162.9 435.1,162.3 435.1,162.3 435.0,162.1 435.0,160.5 435.0,160.5 436.5,158.0 436.5,152.4 433.7,148.1 433.0,143.9" fill="none"/>
<polygon points="436.6,168.4 442.3,172.6 447.9,176.1 448.6,182.5 449.3,189.6 448.6,196.6 446.5,200.9 439.4,202.3 436.6,198.0 435.9,193.8 433.8,190.3 429.6,190.3 431.7,186.7 433.1,181.1 435.2,174.0" fill="none"/>
<polygon points="429.6,190.3 433.8,190.3 435.9,193.8 436.6,198.0 435.2,200.9 434.6,201.2 432.4,202.3 431.0,198.7 428.9,195.2 429.5,191.0" fill="none"/>
<polygon points="392.8,167.0 397.8,163.3 401.3,164.1 402.6,165.8 406.1,167.9 408.1,167.3 411.1,166.5 418.3,165.5 426.6,165.1 426.9,165.2 434.8,162.9 434.6,161.2 434.6,161.2 435.0,160.5 435.0,162.1 435.0,162.1 435.1,162.3 436.6,168.4 435.2,174.0 433.1,181.1 431.7,186.7 429.6,190.3 428.1,186.7 422.5,185.3 415.4,183.9 411.2,182.5 404.1,183.9 401.3,181.1 398.5,175.4 394.2,169.8" fill="none"/>
<polygon points="404.1,183.9 411.2,182.5 415.4,183.9 422.5,185.3 428.1,186.7 429.6,190.3 429.6,190.3 429.6,190.3 429.5,191.0 428.9,195.2 425.3,198.0 418.3,202.3 411.2,205.1 410.5,205.4 404.1,207.9 398.5,209.3 394.2,205.1 394.9,198.0 397.1,195.2 399.9,191.0 401.3,186.7" fill="none"/>
<polygon points="355.4,131.0 358.7,129.1 358.7,129.1 359.1,129.3 359.0,128.9 359.0,128.9 363.9,131.7 369.6,133.9 376.6,134.6 380.9,128.9 382.3,130.3 381.6,137.4 380.9,145.9 380.9,154.3 381.1,155.6 381.5,158.2 380.6,158.9 374.6,163.3 371.7,162.6 366.1,159.8 361.8,157.7 356.2,159.8 350.5,161.2 343.5,164.0 342.8,157.0 344.1,151.5 347.0,145.9 348.4,140.2 349.8,137.4 351.2,132.4" fill="none"/>
<polygon points="343.5,164.0 350.5,161.2 356.2,159.8 361.8,157.7 366.1,159.8 371.7,162.6 374.6,163.3 374.6,166.8 377.4,172.5 376.0,176.7 377.4,181.0 376.0,181.5 373.1,182.4 372.7,182.5 367.5,183.8 364.4,184.8 363.3,185.2 357.6,186.6 352.0,185.2 349.1,182.4 346.3,178.1 343.5,173.9 342.8,168.3" fill="none"/>
<polygon points="374.6,163.3 380.6,158.9 381.6,159.0 384.5,160.4 388.5,162.3 392.8,167.0 394.2,169.8 398.5,175.4 401.3,181.1 404.1,183.9 401.3,186.7 399.9,191.0 397.1,195.2 394.9,198.0 391.5,196.5 388.7,197.9 384.4,195.1 381.6,190.9 377.4,181.0 376.0,176.7 377.4,172.5 374.6,166.8" fill="none"/>
<polygon points="364.4,184.8 367.5,183.8 372.7,182.5 373.1,182.4 376.0,181.5 377.4,181.0 381.6,190.9 384.4,195.1 388.7,197.9 391.5,196.5 394.9,198.0 394.2,205.1 394.1,207.7 397.0,211.2 395.5,214.8 392.7,219.0 391.3,223.3 381.6,223.8 376.0,224.5 370.3,222.4 364.7,219.6 361.0,217.1 360.4,216.7 360.4,210.4 360.6,208.4 360.7,206.8 361.1,201.2 363.3,195.5 364.7,189.9 364.5,185.7" fill="none"/>
<polygon points="402.6,210.5 410.5,205.4 411.2,205.1 419.6,204.2 428.0,200.7 431.0,198.7 432.3,197.1 432.4,202.3 434.6,201.2 436.6,203.7 435.1,206.3 429.4,213.4 423.8,219.0 421.0,224.7 420.3,227.5 418.1,227.5 412.5,220.4 405.4,214.8" fill="none"/>
<polygon points="397.0,211.2 402.6,210.5 405.4,214.8 412.5,220.4 418.1,227.5 415.3,233.1 413.9,236.0 412.5,241.6 412.0,242.2 408.3,245.9 408.0,246.2 404.7,248.7 402.5,248.1 399.8,247.3 398.9,246.4 395.5,243.0 393.4,240.2 394.1,234.6 395.5,228.9 391.3,223.3 392.7,219.0 395.5,214.8" fill="none"/>
<polygon points="331.0,175.5 333.8,171.5 338.8,170.6 342.8,168.3 343.5,173.9 346.3,178.1 349.1,182.4 352.0,185.2 357.6,186.6 363.3,185.2 364.5,185.7 364.7,189.9 363.3,195.5 361.1,201.2 360.7,206.8 360.6,208.4 359.2,207.8 353.4,205.4 346.3,203.3 340.7,202.6 335.3,201.4 330.6,200.6 329.1,196.7 329.8,192.8 331.4,189.7 333.0,187.3 334.1,185.2 333.0,180.5" fill="none"/>
<polygon points="299.1,140.2 299.5,138.0 300.2,138.2 305.3,139.6 313.4,140.2 320.5,141.2 321.6,144.2 320.5,147.3 315.5,148.3 311.4,150.3 306.3,147.3 304.3,145.2 299.5,142.6 298.3,142.0 298.8,141.6 298.8,141.6" fill="none"/>
<polygon points="298.8,141.6 299.5,142.6 304.3,145.2 306.3,147.3 311.4,150.3 311.4,154.4 308.4,158.4 306.3,161.5 305.3,165.5 304.8,168.8 302.5,165.2 299.0,160.5 296.6,154.7 295.5,150.6 294.6,148.7 296.0,143.7 298.3,142.0 298.3,142.0" fill="none"/>
<polygon points="311.4,150.3 315.5,148.3 320.5,147.3 321.6,150.3 321.6,155.4 318.5,156.9 314.5,155.9 311.4,154.4" fill="none"/>
<polygon points="308.4,158.4 311.4,154.4 314.5,155.9 318.5,156.9 321.6,155.4 320.0,160.5 319.5,165.5 317.5,170.6 316.6,171.1 311.9,172.3 306.0,173.4 304.8,168.8 305.3,165.5 306.3,161.5" fill="none"/>
<polygon points="320.5,141.2 327.7,142.7 332.7,142.2 333.5,137.4 335.7,143.0 338.5,148.7 341.3,151.5 344.1,151.5 342.8,157.0 343.5,164.0 342.8,168.3 338.8,170.6 333.8,171.5 331.0,175.5 327.7,174.0 325.7,174.3 323.6,174.7 320.1,173.4 316.6,171.1 317.5,170.6 319.5,165.5 320.0,160.5 321.6,155.4 321.6,150.3 320.5,147.3 321.6,144.2" fill="none"/>
<polygon points="276.8,156.8 277.6,157.2 281.3,155.8 283.3,155.0 288.3,154.0 291.7,152.0 294.6,148.7 295.5,150.6 296.6,154.7 299.0,160.5 302.5,165.2 304.8,168.8 306.0,173.4 304.8,178.1 300.2,180.5 295.5,182.8 290.8,184.6 287.3,182.8 283.8,180.5 278.8,180.2 278.1,178.2 276.1,176.9 275.5,173.5 276.1,170.9 278.8,168.2 279.4,164.9 279.1,162.9" fill="none"/>
<polygon points="295.5,182.8 300.2,180.5 304.8,178.1 306.0,173.4 311.9,172.3 316.6,171.1 320.1,173.4 325.7,174.3 331.0,175.5 333.0,180.5 334.1,185.2 333.0,187.3 331.4,189.7 329.8,192.8 329.1,196.7 330.6,200.6 329.1,201.4 329.1,201.4 327.5,202.2 324.4,203.4 322.0,201.4 318.9,199.8 315.8,199.1 312.7,197.9 311.1,196.7 305.6,196.7 301.7,197.1 299.4,195.2 296.3,192.8 294.7,189.7 295.5,185.0" fill="none"/>
<polygon points="136.6,154.2 141.8,151.9 146.6,150.4 152.3,149.5 156.1,148.5 158.0,150.4 161.8,149.0 166.5,147.6 172.5,146.4 178.1,147.1 182.4,147.8 183.8,152.1 186.6,154.9 193.7,155.6 199.3,154.9 205.0,156.3 207.8,157.0 206.4,163.4 203.6,169.0 200.8,173.3 199.3,177.5 200.8,181.7 202.2,187.4 200.8,191.6 198.5,193.1 196.5,194.4 193.7,198.7 192.3,201.5 190.9,202.9 190.8,202.6 190.4,200.4 183.5,197.0 176.6,194.4 171.5,191.8 166.3,188.4 161.1,184.9 154.3,182.3 150.8,183.2 147.4,180.6 143.9,178.0 142.2,174.6 138.5,172.6 135.3,171.5 140.9,172.3 143.7,169.4 140.0,168.5 141.8,167.5 140.0,164.7 144.5,163.8 147.8,163.4 144.5,162.6 140.0,161.8 138.0,159.0" fill="none"/>
<polygon points="207.8,157.0 213.5,155.6 217.6,153.6 219.0,156.6 219.8,159.4 223.3,163.0 228.9,162.6 230.2,162.5 230.1,163.3 228.9,169.7 228.2,176.7 227.5,182.4 225.4,188.0 224.6,189.9 223.1,189.9 218.9,188.5 213.3,189.2 207.6,191.3 201.9,191.5 200.8,191.6 200.8,191.6 202.2,187.4 200.8,181.7 199.3,177.5 200.8,173.3 203.6,169.0 206.4,163.4" fill="none"/>
<polygon points="230.1,163.3 232.5,162.3 233.5,161.4 234.9,161.9 241.6,164.7 245.0,163.0 248.3,163.0 251.0,161.6 252.3,164.3 252.3,168.9 251.6,171.6 249.6,176.2 249.0,180.2 247.3,185.2 245.9,190.9 244.3,189.9 238.7,190.6 231.6,188.5 224.6,189.9 225.4,188.0 227.5,182.4 228.2,176.7 228.9,169.7" fill="none"/>
<polygon points="236.7,153.8 237.6,151.9 241.0,151.0 244.4,150.4 249.4,149.6 254.2,148.9 259.3,148.1 267.1,145.3 269.8,147.8 272.0,154.3 276.9,156.9 277.6,157.2 277.6,157.2 279.1,162.9 279.4,164.9 278.8,168.2 276.1,170.9 275.5,173.5 276.1,176.9 273.5,174.9 271.5,173.5 268.8,172.2 266.9,169.6 265.5,166.3 263.5,165.3 260.2,166.3 257.6,167.9 254.9,168.2 252.3,168.9 252.3,164.3 251.0,161.6 248.3,163.0 245.0,163.0 241.6,164.7 234.9,161.9 237.4,158.0" fill="none"/>
<polygon points="252.3,168.9 254.9,168.2 257.6,167.9 260.2,166.3 263.5,165.3 265.5,166.3 266.9,169.6 268.8,172.2 271.5,173.5 273.5,174.9 276.1,176.9 278.1,178.2 278.8,180.2 276.7,181.0 274.4,185.2 272.0,191.0 271.4,194.7 271.3,195.1 265.8,197.8 265.6,197.9 259.7,196.7 258.7,196.9 258.6,196.5 252.8,195.5 248.6,192.7 245.9,190.9 247.3,185.2 249.0,180.2 249.6,176.2 251.6,171.6" fill="none"/>
<polygon points="201.9,191.5 207.6,191.3 213.3,189.2 218.9,188.5 223.1,189.9 224.6,189.9 224.6,194.1 226.0,198.4 227.4,201.2 230.2,202.6 227.4,205.4 223.1,208.3 221.7,211.1 223.1,215.3 218.9,218.1 214.7,218.1 214.7,222.4 210.4,221.0 204.8,218.1 202.0,213.9 197.7,211.1 200.5,208.3 194.9,206.8 190.9,202.9 190.8,202.6 192.3,201.5 193.8,198.6 198.5,193.1 200.8,191.6 200.8,191.6 200.8,191.6" fill="none"/>
<polygon points="224.6,189.9 231.6,188.5 238.7,190.6 244.3,189.9 245.9,190.9 248.6,192.7 252.8,195.5 258.6,196.5 258.7,196.9 258.7,196.9 259.9,201.2 258.5,205.4 255.6,211.1 254.2,215.3 251.4,218.1 245.8,216.7 238.7,219.6 231.6,219.6 226.0,218.1 223.1,215.3 221.7,211.1 223.1,208.3 227.4,205.4 230.2,202.6 227.4,201.2 226.0,198.4 224.6,194.1" fill="none"/>
<polygon points="301.6,119.0 311.5,118.3 321.4,122.5 325.6,120.4 334.2,119.0 334.9,127.5 332.8,133.1 333.5,137.4 332.7,142.2 327.7,142.7 320.5,141.2 313.4,140.2 305.3,139.6 300.2,138.2 300.2,134.6 300.2,129.6 300.9,124.7" fill="none"/>
<polygon points="258.7,196.9 258.6,196.5 258.6,196.5 259.7,196.7 265.6,197.9 265.8,197.8 271.3,195.1 271.3,195.1 271.4,194.7 272.6,194.9 278.3,195.6 282.5,198.5 282.5,204.1 285.3,208.4 288.1,212.6 288.1,214.0 288.1,214.0 288.1,216.8 285.3,219.7 281.1,225.3 278.3,231.0 275.4,228.1 272.6,222.5 267.0,221.8 261.3,221.1 257.1,216.8 254.2,215.3 255.6,211.1 258.5,205.4 259.9,201.2" fill="none"/>
<polygon points="278.8,180.2 283.8,180.5 287.3,182.8 290.8,184.6 295.5,182.8 295.5,185.0 294.7,189.7 296.3,192.8 299.4,195.2 301.7,197.1 305.6,196.7 311.1,196.7 312.7,197.9 310.3,199.8 311.1,203.0 311.9,206.1 309.5,210.0 306.0,213.5 303.7,214.0 298.0,212.6 292.4,211.9 288.1,214.0 288.1,212.6 285.3,208.4 282.5,204.1 282.5,198.5 278.3,195.6 272.6,194.9 271.3,195.1 271.4,194.7 271.4,194.7 272.0,191.0 274.4,185.2 276.7,181.0" fill="none"/>
<polygon points="312.7,197.9 315.8,199.1 318.9,199.8 322.0,201.4 324.4,203.4 327.5,202.2 329.1,201.4 329.8,205.3 330.6,208.4 331.2,215.4 333.4,222.5 332.0,229.6 330.8,230.7 329.1,232.4 327.3,232.8 322.1,233.8 316.4,238.0 314.1,240.7 313.9,240.5 312.2,242.3 310.8,243.7 308.6,241.6 307.9,240.9 309.3,232.4 307.9,223.9 306.5,218.3 303.7,214.0 306.0,213.5 309.5,210.0 311.9,206.1 311.1,203.0 310.3,199.8" fill="none"/>
<polygon points="288.1,214.0 292.4,211.9 298.0,212.6 303.7,214.0 306.5,218.3 307.9,223.9 309.3,232.4 307.9,240.9 310.8,243.7 308.6,241.6 307.8,241.9 302.3,243.7 296.6,243.0 291.0,244.4 288.8,244.1 285.3,243.7 282.5,240.9 281.1,236.6 278.3,231.0 281.1,225.3 285.3,219.7 288.1,216.8" fill="none"/>
<polygon points="329.8,205.3 329.1,201.4 330.6,200.6 335.3,201.4 340.7,202.6 346.3,203.3 353.4,205.4 359.2,207.8 360.4,210.4 360.4,216.7 358.0,220.0 356.8,223.7 356.0,226.0 352.0,230.0 348.1,232.3 348.2,232.6 347.0,233.0 345.3,232.8 341.4,232.2 340.0,232.0 335.5,231.2 334.0,231.0 332.0,229.6 333.4,222.5 331.2,215.4 330.6,208.4" fill="none"/>
<polygon points="199.2,216.0 202.0,213.9 204.8,218.1 210.4,221.0 214.7,222.4 214.7,218.1 218.9,218.1 223.1,215.3 226.0,218.1 231.6,219.6 233.0,222.4 236.0,225.0 237.4,230.7 236.0,236.3 237.4,242.0 237.4,243.4 233.1,246.2 227.5,244.1 221.8,244.8 219.0,243.4 213.4,240.5 207.7,236.3 203.5,230.7 199.2,225.0" fill="none"/>
<polygon points="231.6,219.6 238.7,219.6 245.8,216.7 251.4,218.1 254.2,215.3 252.8,222.4 254.2,228.0 252.9,232.1 254.3,239.1 255.8,244.8 257.2,250.4 254.3,254.7 250.1,257.5 245.9,254.7 240.2,250.4 234.6,247.6 237.4,243.4 237.4,242.0 236.0,236.3 237.4,230.7 236.0,225.0 233.0,222.4" fill="none"/>
<polygon points="254.2,215.3 257.1,216.8 261.3,221.1 267.0,221.8 272.6,222.5 275.4,228.1 278.3,231.0 281.1,236.6 282.5,240.9 281.3,245.9 281.1,246.5 277.4,247.7 276.0,253.4 273.9,255.5 273.1,256.2 270.3,254.8 263.3,256.2 257.6,256.2 257.2,250.4 255.8,244.8 254.3,239.1 252.9,232.1 254.2,228.0 252.8,222.4" fill="none"/>
<polygon points="221.8,244.8 227.5,244.1 233.1,246.2 234.6,247.6 240.2,250.4 245.9,254.7 250.1,257.5 248.7,261.7 247.3,266.0 243.0,270.2 243.0,275.9 245.9,281.5 248.7,285.8 250.1,289.0 246.0,292.0 240.0,291.0 237.4,289.0 233.1,282.9 232.6,282.2 230.5,278.9 230.3,278.7 227.8,276.2 226.1,274.4 223.4,272.9 221.1,271.6 220.4,267.4 217.6,263.1 217.6,258.9 220.4,256.1 223.3,253.3 219.0,246.2" fill="none"/>
<polygon points="250.1,257.5 254.3,254.7 257.6,256.2 263.3,256.2 270.3,254.8 273.1,256.2 273.9,255.5 274.3,256.3 276.0,260.4 273.1,266.1 271.0,271.7 268.9,274.6 266.1,280.2 263.3,284.4 260.4,288.7 255.0,290.0 253.1,289.6 250.1,289.0 248.7,285.8 245.9,281.5 243.0,275.9 243.0,270.2 247.3,266.0 248.7,261.7" fill="none"/>
<polygon points="276.0,253.4 277.4,247.7 281.1,246.5 281.3,245.9 282.8,245.5 288.8,244.1 289.0,244.8 290.8,250.5 292.9,257.6 295.8,263.3 297.2,267.5 291.5,270.3 287.3,276.0 281.6,277.4 277.4,276.0 273.1,273.1 271.0,271.7 273.1,266.1 276.0,260.4 274.3,256.3" fill="none"/>
<polygon points="282.5,240.9 285.3,243.7 288.8,244.1 288.8,244.1 291.0,244.4 296.6,243.0 302.3,243.7 307.8,241.9 310.8,243.7 312.2,242.3 313.9,240.5 314.1,240.7 314.1,240.7 317.0,243.5 319.1,249.9 319.8,252.0 321.2,259.0 319.8,266.1 317.0,269.6 311.3,270.3 304.2,268.9 297.2,267.5 297.2,267.5 295.8,263.3 292.9,257.6 290.8,250.5 289.0,244.8 282.8,245.5" fill="none"/>
<polygon points="287.3,276.0 291.5,270.3 297.2,267.5 304.2,268.9 311.3,270.3 317.0,269.6 318.4,274.6 319.1,277.5 319.2,277.5 319.8,280.2 317.0,285.9 314.1,291.5 308.5,295.8 302.8,295.8 297.2,294.3 291.5,291.5 287.3,288.7 285.9,283.0 285.9,278.8" fill="none"/>
<polygon points="361.0,217.1 362.4,212.8 364.7,219.6 370.3,222.4 376.0,224.5 381.6,223.8 391.3,223.3 395.5,228.9 394.1,234.6 393.4,240.2 391.3,241.6 387.8,242.5 382.2,242.5 380.8,245.3 379.4,251.9 379.3,252.4 377.0,251.1 375.0,250.0 374.1,249.9 370.1,249.3 370.1,249.3 368.5,249.1 368.3,249.0 368.0,249.0 365.8,248.2 362.0,247.0 356.7,243.9 353.9,241.1 349.7,236.8 348.2,232.6 348.2,232.6 348.1,232.3 351.8,230.1 356.7,229.8 356.8,223.7" fill="none"/>
<polygon points="322.1,233.8 327.3,232.8 329.1,232.4 330.8,230.7 332.0,229.6 334.0,231.0 335.5,231.2 340.0,232.0 341.4,232.2 345.3,232.8 347.0,233.0 348.1,232.3 348.1,232.3 348.2,232.6 349.7,236.8 353.9,241.1 356.7,243.9 355.3,248.1 356.0,250.7 354.6,256.3 353.1,260.5 351.7,260.5 347.5,259.1 340.4,257.7 332.0,256.3 329.1,252.1 325.7,251.0 319.9,250.0 319.1,249.9 317.0,243.5 314.1,240.7 313.9,240.5 313.9,240.5 316.4,238.0 322.1,233.8" fill="none"/>
<polygon points="319.9,250.0 325.7,251.0 329.1,252.1 332.0,256.3 340.4,257.7 347.5,259.1 351.7,260.5 353.1,260.5 354.6,266.2 356.0,273.3 356.0,278.9 353.1,281.7 347.5,282.4 340.4,283.1 336.2,284.6 329.1,283.1 323.5,280.3 319.1,277.5 318.4,274.6 317.0,269.6 319.8,266.1 321.2,259.0 319.8,252.0" fill="none"/>
<polygon points="356.7,243.9 362.0,247.0 365.8,248.2 368.0,249.0 368.5,249.1 370.1,249.3 368.7,253.5 367.3,259.1 368.7,266.2 372.9,270.4 377.2,274.7 380.0,277.5 377.2,281.7 374.3,284.6 371.5,283.1 367.3,284.6 363.0,286.0 358.8,286.0 356.0,281.7 356.0,278.9 356.0,273.3 354.6,266.2 353.1,260.5 354.6,256.3 356.0,250.7 355.3,248.1" fill="none"/>
<polygon points="368.3,249.0 368.0,249.0 368.0,249.0 374.1,249.9 375.0,250.0 377.0,251.1 378.6,256.3 382.8,260.5 387.1,266.2 388.5,269.0 384.2,271.8 381.4,276.1 380.0,277.5 377.2,274.7 372.9,270.4 368.7,266.2 367.3,259.1 368.7,253.5 370.1,249.3" fill="none"/>
<polygon points="380.8,245.3 382.2,242.5 387.2,240.2 391.3,241.6 393.5,244.1 398.9,246.4 399.8,247.3 402.5,248.1 408.0,246.2 408.3,245.9 412.0,242.2 414.7,245.7 414.3,246.6 412.3,250.4 409.2,253.5 408.7,255.4 407.9,258.5 407.6,259.8 407.1,261.1 407.6,261.4 406.0,264.5 402.9,269.2 401.3,272.3 398.2,267.6 395.1,264.5 390.4,262.9 387.1,266.2 382.8,260.5 378.6,256.3 379.3,252.4 379.4,251.9" fill="none"/>
<polygon points="336.2,284.6 340.4,283.1 347.5,282.4 353.1,281.7 356.0,281.7 358.8,286.0 363.0,286.0 367.3,284.6 371.5,283.1 374.3,284.6 372.9,287.4 371.5,290.2 370.7,291.4 368.7,294.4 367.6,295.5 364.4,298.7 357.4,301.5 349.4,302.8 348.9,302.9 346.2,300.2 346.1,300.1 343.3,297.3 342.4,295.7 342.5,295.7 340.4,291.6 337.6,287.4" fill="none"/>
<polygon points="317.0,285.9 319.8,280.2 318.4,274.6 319.2,277.5 323.5,280.3 329.1,283.1 336.2,284.6 337.6,287.4 340.4,291.6 342.5,295.7 339.6,299.9 336.7,304.1 332.5,304.1 329.7,302.7 326.8,299.9 321.2,302.7 314.1,309.8 309.9,311.2 308.4,308.3 306.9,301.2 308.5,295.8 314.1,291.5" fill="none"/>
<polygon points="408.7,255.4 409.2,253.5 412.3,250.4 414.3,246.6 414.7,245.7 417.0,244.9 420.2,243.3 426.4,242.5 431.1,243.3 432.7,247.2 432.7,251.9 435.8,255.1 439.0,259.8 435.8,262.9 432.7,264.5 429.6,266.0 426.4,264.5 424.9,267.6 420.2,269.2 417.0,267.6 413.9,264.5 407.6,261.4 407.6,261.4 407.1,261.1 407.6,259.8 407.9,258.5" fill="none"/>
<polygon points="406.0,264.5 407.1,261.1 407.1,261.1 407.6,261.4 413.9,264.5 417.0,267.6 420.2,269.2 424.9,267.6 426.4,264.5 429.6,266.0 432.7,264.5 435.8,262.9 439.0,259.8 437.4,266.0 439.0,270.8 442.1,277.0 443.7,281.7 440.5,286.4 432.7,289.6 428.0,291.1 426.6,291.6 423.3,292.7 419.9,290.5 418.6,289.6 417.0,284.9 412.3,278.6 407.6,277.0 404.5,275.5 402.9,269.2" fill="none"/>
<polygon points="387.1,266.2 390.4,262.9 395.1,264.5 398.2,267.6 401.3,272.3 402.9,269.2 404.5,275.5 407.6,277.0 412.3,278.6 417.0,284.9 418.6,289.6 419.9,290.5 419.9,290.5 423.3,292.7 421.0,297.5 417.5,302.2 410.5,304.5 405.3,305.4 402.2,306.6 399.7,301.2 398.3,294.1 397.2,293.6 392.7,291.6 389.8,292.7 388.5,287.4 381.4,287.4 380.1,284.8 380.0,284.6 377.2,281.7 380.0,277.5 381.4,276.1 384.2,271.8 388.5,269.0" fill="none"/>
<polygon points="251.8,292.7 252.0,292.2 252.2,291.7 253.1,289.6 258.9,287.1 260.4,288.7 263.3,284.4 266.1,280.2 268.9,274.6 271.0,271.7 273.1,273.1 277.4,276.0 281.6,277.4 287.3,276.0 285.9,278.8 285.9,283.0 287.3,288.7 288.6,294.1 290.0,297.0 284.3,299.8 282.9,305.4 280.1,311.1 275.9,311.1 271.6,309.7 267.4,311.1 261.7,311.1 258.9,306.1 256.1,304.0 254.8,303.6 251.8,302.6 252.9,298.5 253.3,297.0" fill="none"/>
<polygon points="284.3,299.8 290.0,297.0 291.5,291.5 297.2,294.3 302.8,295.8 308.5,295.8 306.9,301.2 308.4,308.3 304.1,315.3 301.3,319.6 300.0,323.5 298.4,324.0 295.1,324.6 293.1,324.0 290.5,325.3 287.8,326.0 285.2,325.3 281.9,324.0 280.5,322.0 277.3,318.1 280.1,311.1 282.9,305.4" fill="none"/>
<polygon points="258.9,306.1 261.7,311.1 267.4,311.1 271.6,309.7 275.9,311.1 280.1,311.1 277.3,318.1 275.2,322.0 274.6,326.0 273.3,329.3 271.3,331.3 264.6,332.3 257.5,333.7 251.8,332.3 247.6,328.0 246.2,325.2 247.6,322.4 249.0,316.7 250.4,311.1 254.7,308.3" fill="none"/>
<polygon points="275.2,322.0 280.5,322.0 281.9,324.0 285.2,325.3 287.8,326.0 290.5,325.3 293.1,324.0 295.1,324.6 298.4,324.0 300.0,323.5 301.3,326.0 299.1,329.3 296.4,330.6 295.1,331.9 293.8,333.9 294.5,336.6 292.5,337.9 289.8,339.2 287.2,340.5 283.9,342.5 281.2,343.2 277.9,343.2 275.2,342.5 274.6,340.5 273.3,338.6 271.3,336.6 271.9,333.9 271.3,331.3 273.3,329.3 274.6,326.0" fill="none"/>
<polygon points="223.4,272.9 226.1,274.4 227.8,276.2 230.3,278.7 230.5,278.9 232.6,282.2 233.1,282.9 238.1,284.1 242.4,285.5 246.6,288.4 252.2,291.7 252.0,292.2 251.8,292.7 253.3,297.0 252.9,298.5 254.8,303.6 256.1,304.0 258.9,306.1 254.7,308.3 250.4,311.1 249.0,316.7 247.6,322.4 246.2,325.2 242.4,325.1 238.1,322.3 235.3,318.0 231.1,315.2 224.0,313.8 217.0,313.8 217.7,309.6 218.4,303.9 219.8,295.4 221.2,284.1" fill="none"/>
<polygon points="217.0,313.8 224.0,313.8 231.1,315.2 235.3,318.0 238.1,322.3 242.4,325.1 246.2,325.2 247.6,328.0 251.8,332.3 253.0,334.8 248.8,336.2 244.6,337.6 243.1,343.3 244.6,348.9 240.3,350.3 233.3,349.6 226.2,350.3 219.1,351.7 213.5,350.3 206.4,351.7 203.5,352.0 206.5,348.0 208.5,343.0 210.9,336.2 213.5,323.0 217.0,313.8" fill="none"/>
<polygon points="203.5,352.0 206.4,351.7 213.5,350.3 219.1,351.7 226.2,350.3 233.3,349.6 240.3,350.3 244.6,348.9 247.4,353.1 248.8,358.8 247.4,363.0 246.0,367.3 244.6,371.5 243.7,377.5 240.0,378.8 232.5,375.5 225.0,372.0 218.0,369.5 210.9,365.4 205.6,360.5 201.8,356.5" fill="none"/>
<polygon points="247.4,353.1 251.6,356.0 257.3,357.4 261.5,358.8 265.8,361.6 264.3,367.3 262.9,371.5 263.5,377.0 263.4,377.3 262.0,383.0 261.2,383.3 260.0,383.8 255.0,383.0 250.0,381.3 243.7,377.5 244.6,371.5 246.0,367.3 247.4,363.0 248.8,358.8" fill="none"/>
<polygon points="244.6,337.6 248.8,336.2 253.0,334.8 251.8,332.3 257.5,333.7 264.6,332.3 271.3,331.3 271.9,333.9 271.3,336.6 273.3,338.6 274.6,340.5 275.2,342.5 277.2,345.2 279.2,347.8 281.2,350.5 278.5,354.6 272.8,357.4 267.2,358.8 265.8,361.6 261.5,358.8 257.3,357.4 251.6,356.0 247.4,353.1 244.6,348.9 243.1,343.3" fill="none"/>
<polygon points="294.5,336.6 293.8,333.9 295.1,331.9 296.4,330.6 299.1,329.3 302.4,328.5 308.0,329.9 313.7,331.3 317.9,335.5 322.2,342.6 326.0,347.6 321.6,350.9 319.4,356.4 316.5,356.7 309.4,358.1 302.4,356.7 298.1,353.9 299.7,352.0 298.4,348.5 297.1,344.5 295.8,340.5" fill="none"/>
<polygon points="275.2,342.5 277.9,343.2 281.2,343.2 283.9,342.5 287.2,340.5 289.8,339.2 292.5,337.9 294.5,336.6 295.8,340.5 297.1,344.5 298.4,348.5 299.7,352.0 298.1,353.9 297.2,357.8 295.6,360.9 290.9,359.4 286.3,362.5 278.4,365.6 276.9,368.8 273.8,373.4 272.2,378.1 272.2,379.7 267.5,382.8 262.0,383.0 261.2,383.3 263.4,377.3 263.5,377.0 262.9,371.5 264.3,367.3 265.8,361.6 267.2,358.8 272.8,357.4 278.5,354.6 281.2,350.5 279.2,347.8 277.2,345.2" fill="none"/>
<polygon points="272.2,379.7 272.2,378.1 273.8,373.4 276.9,368.8 278.4,365.6 286.3,362.5 290.9,359.4 295.6,360.9 297.2,357.8 300.3,365.6 301.9,373.4 303.4,381.3 308.1,384.4 307.7,384.7 305.0,386.7 301.5,387.6 298.8,388.3 292.5,387.5 286.3,384.4 278.4,381.3" fill="none"/>
<polygon points="298.1,353.9 302.4,356.7 309.4,358.1 316.5,356.7 319.4,356.4 320.5,362.0 323.8,363.1 328.2,364.2 334.9,365.3 337.1,366.4 334.5,370.0 333.1,373.4 332.3,378.9 326.9,377.3 320.6,378.9 314.4,380.5 308.1,384.4 307.7,384.7 307.7,384.7 303.4,381.3 301.9,373.4 300.3,365.6 297.2,357.8" fill="none"/>
<polygon points="296.4,390.6 301.5,387.6 307.7,384.7 308.1,384.4 308.1,384.4 314.4,380.5 320.6,378.9 326.9,377.3 332.3,378.9 333.1,384.4 333.1,390.6 336.3,393.8 331.6,395.3 325.3,396.9 320.6,397.7 314.4,396.9 306.6,395.3 300.3,394.5 297.2,392.2" fill="none"/>
<polygon points="309.9,311.2 314.1,309.8 321.2,302.7 326.8,299.9 329.7,302.7 332.5,304.1 333.9,311.2 335.3,318.3 338.1,325.3 342.4,329.6 341.5,332.1 342.6,336.6 340.4,339.9 337.1,342.1 332.7,344.3 326.0,347.6 322.2,342.6 317.9,335.5 313.7,331.3 308.0,329.9 302.4,328.5 301.3,326.0 300.0,323.5 301.3,319.6 304.1,315.3 308.4,308.3" fill="none"/>
<polygon points="332.5,304.1 336.7,304.1 339.6,299.9 342.4,295.7 343.3,297.3 346.1,300.1 346.2,300.2 348.9,302.9 349.4,302.8 353.7,304.1 356.5,305.5 357.9,311.2 356.5,318.3 356.6,318.6 357.9,323.9 355.1,328.1 352.1,329.2 352.1,329.2 350.9,329.6 349.4,330.1 346.6,331.0 343.7,330.0 342.4,329.6 338.1,325.3 335.3,318.3 333.9,311.2" fill="none"/>
<polygon points="370.7,291.4 371.5,290.2 372.9,287.4 374.3,284.6 377.2,281.7 380.0,284.6 380.1,284.8 380.1,284.8 381.4,287.4 381.9,291.4 380.5,297.1 379.1,304.1 377.7,311.2 379.1,318.3 377.8,322.2 377.8,322.2 377.7,322.5 376.5,326.1 376.3,326.7 372.1,323.9 366.4,322.5 362.2,321.1 357.6,319.1 356.6,318.6 356.5,318.3 357.9,311.2 356.5,305.5 359.3,304.1 363.6,301.3 367.6,295.5 368.7,294.4" fill="none"/>
<polygon points="357.6,319.1 362.2,321.1 366.4,322.5 372.1,323.9 376.3,326.7 376.5,326.1 377.9,329.6 379.0,332.1 380.3,335.4 381.2,337.7 376.8,339.9 374.6,345.4 370.2,349.8 366.9,353.1 364.7,353.1 361.4,352.0 363.6,350.9 363.6,346.5 359.2,342.1 355.9,336.6 355.5,333.0 352.1,329.2 355.1,328.1 357.9,323.9" fill="none"/>
<polygon points="321.6,350.9 326.0,347.6 332.7,344.3 337.1,342.1 340.4,339.9 342.6,336.6 341.5,332.1 343.7,330.0 349.4,330.1 350.9,329.6 352.1,329.2 355.5,333.0 355.9,336.6 359.2,342.1 363.6,346.5 363.6,350.9 361.4,352.0 357.0,353.1 351.4,356.4 345.9,359.7 340.4,363.1 337.1,366.4 334.9,365.3 328.2,364.2 323.8,363.1 320.5,362.0 319.4,356.4" fill="none"/>
<polygon points="380.1,284.8 380.0,284.6 380.0,284.6 381.4,287.4 388.5,287.4 389.8,292.7 392.7,291.6 397.2,293.6 398.3,294.1 399.7,301.2 402.2,306.6 405.3,305.4 403.9,309.7 399.7,315.3 400.7,319.4 401.1,321.0 398.3,325.2 391.2,326.6 387.0,323.8 384.1,321.0 377.8,322.2 377.7,322.5 379.1,318.3 377.7,311.2 379.1,304.1 380.5,297.1 381.9,291.4" fill="none"/>
<polygon points="405.3,305.4 410.5,304.5 417.5,302.2 421.0,297.5 419.9,290.5 423.3,292.7 426.6,291.6 430.8,294.1 432.2,298.4 436.4,301.2 440.6,305.4 437.8,308.3 435.0,311.1 430.8,313.9 426.5,315.3 420.9,316.7 415.2,318.1 411.0,321.0 408.1,323.8 403.9,322.4 400.7,319.4 399.7,315.3 403.9,309.7" fill="none"/>
<polygon points="401.1,321.0 403.9,322.4 408.1,323.8 411.0,321.0 415.2,318.1 420.9,316.7 426.5,315.3 430.8,313.9 435.0,311.1 437.8,308.3 437.6,314.0 437.6,319.0 433.3,324.4 432.1,328.1 434.6,331.7 438.2,335.3 434.6,337.8 432.1,340.2 428.5,339.5 421.4,340.5 414.3,342.0 408.7,343.3 405.3,336.5 402.5,330.9 402.5,326.6 398.3,325.2" fill="none"/>
<polygon points="437.6,319.0 440.6,322.0 444.3,324.4 449.1,326.2 452.8,327.5 456.4,326.2 458.8,325.0 460.0,327.5 460.0,330.5 457.6,334.1 456.4,337.8 454.0,340.2 451.6,342.6 447.9,345.0 444.3,347.5 440.6,351.1 439.4,352.3 438.2,347.5 435.8,343.8 432.1,340.2 434.6,337.8 438.2,335.3 434.6,331.7 432.1,328.1 433.3,324.4" fill="none"/>
<polygon points="377.8,322.2 383.3,323.5 387.0,323.8 391.2,326.6 398.3,325.2 402.5,326.6 402.5,330.9 405.3,336.5 408.7,343.3 408.7,346.8 403.0,345.4 397.4,345.4 391.7,344.7 386.1,341.8 382.2,338.6 381.2,337.7 376.8,339.9 380.3,335.4 379.0,332.1 377.9,329.6 377.7,322.5 377.7,322.5" fill="none"/>
<polygon points="376.8,339.9 381.2,337.7 382.2,338.6 386.1,341.8 391.7,344.7 397.4,345.4 403.0,345.4 408.7,346.8 407.3,350.3 407.3,356.0 405.9,361.6 403.0,364.4 397.4,365.2 393.1,365.9 387.5,364.4 381.8,362.3 377.6,360.2 373.4,357.4 369.1,357.4 366.9,355.3 366.9,353.1 370.2,349.8 374.6,345.4" fill="none"/>
<polygon points="408.7,343.3 414.3,342.0 421.4,340.5 428.5,339.5 432.1,340.2 435.8,343.8 438.2,347.5 439.4,352.3 435.5,357.4 432.7,361.6 428.5,364.4 424.2,368.7 418.6,370.8 412.9,368.7 408.7,365.9 405.9,361.6 407.3,356.0 407.3,350.3 408.7,346.8" fill="none"/>
<polygon points="509.8,366.0 511.1,367.9 511.8,373.2 511.8,375.9 513.8,378.5 515.1,382.5 515.8,387.8 516.4,394.4 515.8,399.7 514.4,405.0 513.1,409.0 512.5,410.5 509.1,409.1 506.5,402.5 502.5,397.2 497.2,394.6 491.0,393.0 489.5,392.6 490.6,386.5 491.9,383.2 495.9,381.2 499.9,378.5 502.5,377.2 506.5,377.2 508.5,375.9 507.8,371.9 507.8,366.6" fill="none"/>
<polygon points="489.5,392.6 497.2,394.6 502.5,397.2 506.5,402.5 509.1,409.1 512.5,410.5 512.5,413.0 512.5,418.3 511.8,419.7 512.5,425.0 510.5,429.0 507.8,427.0 505.2,425.0 501.2,423.7 497.2,422.4 498.5,419.7 495.9,418.4 497.2,415.8 493.2,415.1 494.6,414.3 491.9,411.7 493.2,409.0 490.6,405.0 490.6,401.1 489.3,397.1 491.0,393.0" fill="none"/>
<polyline points="166.3,147.0 167.2,157.4 166.3,164.3 164.6,169.4 162.0,172.0 164.6,176.3 168.0,181.5 166.3,188.4" fill="none"/>
<polyline points="162.0,172.0 169.8,170.3 176.6,172.0 183.5,173.7 190.4,174.6 195.6,173.7 200.7,174.6" fill="none"/>
<polygon points="169.0,202.5 172.0,201.8 175.0,203.0 174.0,204.5 170.0,204.2" fill="#a8a8ff"/>
<polygon points="163.5,195.2 165.5,194.8 166.0,196.0 164.0,196.3" fill="#a8a8ff"/>
<polygon points="127.0,156.2 129.0,155.5 130.0,156.6 128.0,157.2" fill="#a8a8ff"/>
<polygon points="196.0,214.0 197.5,212.5 198.8,215.5 198.0,218.0 196.5,217.0" fill="#fcf2fc"/>
<polygon points="192.0,226.0 194.0,225.5 194.5,227.0 192.5,227.5" fill="#fcf2fc"/>
<polygon points="212.0,250.5 216.0,249.8 218.0,250.8 214.0,251.8" fill="#ffaaaa"/>
<polygon points="214.0,256.0 215.5,255.0 216.8,258.0 217.2,262.0 216.0,264.0 215.0,260.0" fill="#ffaaaa"/>
</g>
<g><circle cx="317.4" cy="92.4" r="12.4" fill="rgba(224,0,0,0.53)" stroke="#2a1414" stroke-width="0.6"/><circle cx="336.5" cy="89.8" r="12.2" fill="rgba(224,0,0,0.53)" stroke="#2a1414" stroke-width="0.6"/><circle cx="318" cy="110.5" r="4.5" fill="rgba(224,0,0,0.53)" stroke="#2a1414" stroke-width="0.6"/><circle cx="285.5" cy="124.5" r="7.5" fill="rgba(224,0,0,0.53)" stroke="#2a1414" stroke-width="0.6"/><circle cx="283.8" cy="141.3" r="3" fill="rgba(224,0,0,0.53)" stroke="#2a1414" stroke-width="0.6"/><circle cx="318.5" cy="130.5" r="4" fill="rgba(224,0,0,0.53)" stroke="#2a1414" stroke-width="0.6"/><circle cx="344" cy="128.8" r="6.5" fill="rgba(224,0,0,0.53)" stroke="#2a1414" stroke-width="0.6"/><circle cx="310" cy="143.8" r="5" fill="rgba(224,0,0,0.53)" stroke="#2a1414" stroke-width="0.6"/><circle cx="304" cy="153.3" r="4.5" fill="rgba(224,0,0,0.53)" stroke="#2a1414" stroke-width="0.6"/><circle cx="313" cy="163" r="5.5" fill="rgba(224,0,0,0.53)" stroke="#2a1414" stroke-width="0.6"/><circle cx="329.5" cy="159.5" r="5.8" fill="rgba(224,0,0,0.53)" stroke="#2a1414" stroke-width="0.6"/><circle cx="290.8" cy="169.3" r="2" fill="rgba(224,0,0,0.53)" stroke="#2a1414" stroke-width="0.6"/><circle cx="373.8" cy="121.8" r="3" fill="rgba(224,0,0,0.53)" stroke="#2a1414" stroke-width="0.6"/><circle cx="362.5" cy="148.8" r="3.8" fill="rgba(224,0,0,0.53)" stroke="#2a1414" stroke-width="0.6"/><circle cx="391.6" cy="143.9" r="1.7" fill="rgba(224,0,0,0.53)" stroke="#2a1414" stroke-width="0.6"/><circle cx="409.4" cy="148.4" r="5.3" fill="rgba(224,0,0,0.53)" stroke="#2a1414" stroke-width="0.6"/><circle cx="423.8" cy="142.8" r="2.5" fill="rgba(224,0,0,0.53)" stroke="#2a1414" stroke-width="0.6"/><circle cx="442.2" cy="153.8" r="2.2" fill="rgba(224,0,0,0.53)" stroke="#2a1414" stroke-width="0.6"/><circle cx="360.2" cy="172.2" r="3.3" fill="rgba(224,0,0,0.53)" stroke="#2a1414" stroke-width="0.6"/><circle cx="388" cy="179.7" r="2.5" fill="rgba(224,0,0,0.53)" stroke="#2a1414" stroke-width="0.6"/><circle cx="415.3" cy="174.2" r="2.2" fill="rgba(224,0,0,0.53)" stroke="#2a1414" stroke-width="0.6"/><circle cx="439.4" cy="187.5" r="2" fill="rgba(224,0,0,0.53)" stroke="#2a1414" stroke-width="0.6"/><circle cx="432.6" cy="196.3" r="2.5" fill="rgba(224,0,0,0.53)" stroke="#2a1414" stroke-width="0.6"/><circle cx="410.5" cy="198.3" r="4.6" fill="rgba(224,0,0,0.53)" stroke="#2a1414" stroke-width="0.6"/><circle cx="315" cy="186.3" r="3.8" fill="rgba(224,0,0,0.53)" stroke="#2a1414" stroke-width="0.6"/><circle cx="347.3" cy="190.8" r="2" fill="rgba(224,0,0,0.53)" stroke="#2a1414" stroke-width="0.6"/><circle cx="290" cy="196.3" r="2.5" fill="rgba(224,0,0,0.53)" stroke="#2a1414" stroke-width="0.6"/><circle cx="377.7" cy="205.7" r="3" fill="rgba(224,0,0,0.53)" stroke="#2a1414" stroke-width="0.6"/><circle cx="417.1" cy="212" r="3" fill="rgba(224,0,0,0.53)" stroke="#2a1414" stroke-width="0.6"/><circle cx="347.7" cy="216.6" r="3.6" fill="rgba(224,0,0,0.53)" stroke="#2a1414" stroke-width="0.6"/><circle cx="400" cy="229.1" r="2" fill="rgba(224,0,0,0.53)" stroke="#2a1414" stroke-width="0.6"/><circle cx="373.3" cy="235.7" r="2.5" fill="rgba(224,0,0,0.53)" stroke="#2a1414" stroke-width="0.6"/><circle cx="336.6" cy="245.3" r="6" fill="rgba(224,0,0,0.53)" stroke="#2a1414" stroke-width="0.6"/><circle cx="395.3" cy="254.4" r="3.3" fill="rgba(224,0,0,0.53)" stroke="#2a1414" stroke-width="0.6"/><circle cx="375" cy="263.6" r="7.4" fill="rgba(224,0,0,0.53)" stroke="#2a1414" stroke-width="0.6"/><circle cx="422.3" cy="257.9" r="2.8" fill="rgba(224,0,0,0.53)" stroke="#2a1414" stroke-width="0.6"/><circle cx="150.8" cy="168" r="4" fill="rgba(224,0,0,0.53)" stroke="#2a1414" stroke-width="0.6"/><circle cx="185.3" cy="161.5" r="2.6" fill="rgba(224,0,0,0.53)" stroke="#2a1414" stroke-width="0.6"/><circle cx="181.8" cy="187" r="3.5" fill="rgba(224,0,0,0.53)" stroke="#2a1414" stroke-width="0.6"/><circle cx="212.7" cy="173.5" r="4.5" fill="rgba(224,0,0,0.53)" stroke="#2a1414" stroke-width="0.6"/><circle cx="211.8" cy="206.3" r="6.2" fill="rgba(224,0,0,0.53)" stroke="#2a1414" stroke-width="0.6"/><circle cx="224.5" cy="142" r="2.2" fill="rgba(224,0,0,0.53)" stroke="#2a1414" stroke-width="0.6"/><circle cx="246.2" cy="142.7" r="3.9" fill="rgba(224,0,0,0.53)" stroke="#2a1414" stroke-width="0.6"/><circle cx="258" cy="160" r="3.5" fill="rgba(224,0,0,0.53)" stroke="#2a1414" stroke-width="0.6"/><circle cx="240.3" cy="176.3" r="2" fill="rgba(224,0,0,0.53)" stroke="#2a1414" stroke-width="0.6"/><circle cx="260.5" cy="183.3" r="2.5" fill="rgba(224,0,0,0.53)" stroke="#2a1414" stroke-width="0.6"/><circle cx="238" cy="205.5" r="4" fill="rgba(224,0,0,0.53)" stroke="#2a1414" stroke-width="0.6"/><circle cx="271.5" cy="211.5" r="4" fill="rgba(224,0,0,0.53)" stroke="#2a1414" stroke-width="0.6"/><circle cx="222.2" cy="231" r="2.2" fill="rgba(224,0,0,0.53)" stroke="#2a1414" stroke-width="0.6"/><circle cx="245.1" cy="237.5" r="2" fill="rgba(224,0,0,0.53)" stroke="#2a1414" stroke-width="0.6"/><circle cx="264.6" cy="237.3" r="3" fill="rgba(224,0,0,0.53)" stroke="#2a1414" stroke-width="0.6"/><circle cx="295.4" cy="232.2" r="2.8" fill="rgba(224,0,0,0.53)" stroke="#2a1414" stroke-width="0.6"/><circle cx="317.1" cy="221.8" r="3.5" fill="rgba(224,0,0,0.53)" stroke="#2a1414" stroke-width="0.6"/><circle cx="237" cy="266.6" r="6.8" fill="rgba(224,0,0,0.53)" stroke="#2a1414" stroke-width="0.6"/><circle cx="258.5" cy="269.2" r="2.8" fill="rgba(224,0,0,0.53)" stroke="#2a1414" stroke-width="0.6"/><circle cx="285.6" cy="263.5" r="3" fill="rgba(224,0,0,0.53)" stroke="#2a1414" stroke-width="0.6"/><circle cx="304.3" cy="257.2" r="2" fill="rgba(224,0,0,0.53)" stroke="#2a1414" stroke-width="0.6"/><circle cx="336.4" cy="270.3" r="6.3" fill="rgba(224,0,0,0.53)" stroke="#2a1414" stroke-width="0.6"/><circle cx="363.6" cy="270.4" r="4" fill="rgba(224,0,0,0.53)" stroke="#2a1414" stroke-width="0.6"/><circle cx="272" cy="292.4" r="5.6" fill="rgba(224,0,0,0.53)" stroke="#2a1414" stroke-width="0.6"/><circle cx="302.7" cy="283.4" r="4.8" fill="rgba(224,0,0,0.53)" stroke="#2a1414" stroke-width="0.6"/><circle cx="239.5" cy="303.5" r="5.8" fill="rgba(224,0,0,0.53)" stroke="#2a1414" stroke-width="0.6"/><circle cx="324.5" cy="296.1" r="3" fill="rgba(224,0,0,0.53)" stroke="#2a1414" stroke-width="0.6"/><circle cx="353.1" cy="292.1" r="2.2" fill="rgba(224,0,0,0.53)" stroke="#2a1414" stroke-width="0.6"/><circle cx="293.6" cy="312.5" r="3.8" fill="rgba(224,0,0,0.53)" stroke="#2a1414" stroke-width="0.6"/><circle cx="263.9" cy="319.6" r="4.6" fill="rgba(224,0,0,0.53)" stroke="#2a1414" stroke-width="0.6"/><circle cx="322" cy="324" r="2.5" fill="rgba(224,0,0,0.53)" stroke="#2a1414" stroke-width="0.6"/><circle cx="346.5" cy="316.1" r="2" fill="rgba(224,0,0,0.53)" stroke="#2a1414" stroke-width="0.6"/><circle cx="399.7" cy="285.5" r="5.5" fill="rgba(224,0,0,0.53)" stroke="#2a1414" stroke-width="0.6"/><circle cx="420.5" cy="276.5" r="3.5" fill="rgba(224,0,0,0.53)" stroke="#2a1414" stroke-width="0.6"/><circle cx="369.5" cy="306.1" r="4" fill="rgba(224,0,0,0.53)" stroke="#2a1414" stroke-width="0.6"/><circle cx="392.1" cy="309.4" r="4" fill="rgba(224,0,0,0.53)" stroke="#2a1414" stroke-width="0.6"/><circle cx="417" cy="311.5" r="1.2" fill="rgba(224,0,0,0.53)" stroke="#2a1414" stroke-width="0.6"/><circle cx="360.4" cy="334.6" r="5.5" fill="rgba(224,0,0,0.53)" stroke="#2a1414" stroke-width="0.6"/><circle cx="390.2" cy="332.8" r="4.1" fill="rgba(224,0,0,0.53)" stroke="#2a1414" stroke-width="0.6"/><circle cx="420.8" cy="328.8" r="1.5" fill="rgba(224,0,0,0.53)" stroke="#2a1414" stroke-width="0.6"/><circle cx="444.8" cy="337.8" r="4.3" fill="rgba(224,0,0,0.53)" stroke="#2a1414" stroke-width="0.6"/><circle cx="285.8" cy="330.8" r="2.8" fill="rgba(224,0,0,0.53)" stroke="#2a1414" stroke-width="0.6"/><circle cx="308.7" cy="343.5" r="4.8" fill="rgba(224,0,0,0.53)" stroke="#2a1414" stroke-width="0.6"/><circle cx="233.5" cy="341" r="3.5" fill="rgba(224,0,0,0.53)" stroke="#2a1414" stroke-width="0.6"/><circle cx="262.3" cy="346" r="2" fill="rgba(224,0,0,0.53)" stroke="#2a1414" stroke-width="0.6"/><circle cx="226.8" cy="359.1" r="5" fill="rgba(224,0,0,0.53)" stroke="#2a1414" stroke-width="0.6"/><circle cx="254.3" cy="366.8" r="3.8" fill="rgba(224,0,0,0.53)" stroke="#2a1414" stroke-width="0.6"/><circle cx="281.8" cy="359.8" r="8.8" fill="rgba(224,0,0,0.53)" stroke="#2a1414" stroke-width="0.6"/><circle cx="290.4" cy="374" r="3" fill="rgba(224,0,0,0.53)" stroke="#2a1414" stroke-width="0.6"/><circle cx="312.8" cy="367.5" r="3.8" fill="rgba(224,0,0,0.53)" stroke="#2a1414" stroke-width="0.6"/><circle cx="317.6" cy="389.8" r="4.2" fill="rgba(224,0,0,0.53)" stroke="#2a1414" stroke-width="0.6"/><circle cx="339.6" cy="350.6" r="5" fill="rgba(224,0,0,0.53)" stroke="#2a1414" stroke-width="0.6"/><circle cx="390.8" cy="356.3" r="9.3" fill="rgba(224,0,0,0.53)" stroke="#2a1414" stroke-width="0.6"/><circle cx="422" cy="358.7" r="7.2" fill="rgba(224,0,0,0.53)" stroke="#2a1414" stroke-width="0.6"/><circle cx="503.6" cy="387.8" r="1.5" fill="rgba(224,0,0,0.53)" stroke="#2a1414" stroke-width="0.6"/><circle cx="500.3" cy="412.4" r="1.5" fill="rgba(224,0,0,0.53)" stroke="#2a1414" stroke-width="0.6"/><polygon points="307.50,83.70 330.70,83.70 319.10,104.80" fill="rgba(62,222,62,0.45)" stroke="#2a1414" stroke-width="0.6"/><polygon points="330.10,85.11 342.90,85.11 336.50,99.19" fill="rgba(62,222,62,0.45)" stroke="#2a1414" stroke-width="0.6"/><polygon points="315.50,108.67 320.50,108.67 318.00,114.17" fill="rgba(255,255,0,0.45)" stroke="#2a1414" stroke-width="0.6"/><polygon points="283.00,122.67 288.00,122.67 285.50,128.17" fill="rgba(62,222,62,0.45)" stroke="#2a1414" stroke-width="0.6"/><polygon points="278.80,137.63 288.80,137.63 283.80,148.63" fill="rgba(255,255,0,0.45)" stroke="#2a1414" stroke-width="0.6"/><polygon points="317.00,129.40 320.00,129.40 318.50,132.70" fill="rgba(255,255,0,0.45)" stroke="#2a1414" stroke-width="0.6"/><polygon points="337.50,124.03 350.50,124.03 344.00,138.33" fill="rgba(62,222,62,0.45)" stroke="#2a1414" stroke-width="0.6"/><polygon points="306.00,140.87 314.00,140.87 310.00,149.67" fill="rgba(255,255,0,0.45)" stroke="#2a1414" stroke-width="0.6"/><polygon points="300.50,150.73 307.50,150.73 304.00,158.43" fill="rgba(255,255,0,0.45)" stroke="#2a1414" stroke-width="0.6"/><polygon points="308.50,159.70 317.50,159.70 313.00,169.60" fill="rgba(255,255,0,0.45)" stroke="#2a1414" stroke-width="0.6"/><polygon points="325.50,156.57 333.50,156.57 329.50,165.37" fill="rgba(255,255,0,0.45)" stroke="#2a1414" stroke-width="0.6"/><polygon points="288.80,167.83 292.80,167.83 290.80,172.23" fill="rgba(255,255,0,0.45)" stroke="#2a1414" stroke-width="0.6"/><polygon points="360.00,146.97 365.00,146.97 362.50,152.47" fill="rgba(255,255,0,0.45)" stroke="#2a1414" stroke-width="0.6"/><polygon points="407.90,147.30 410.90,147.30 409.40,150.60" fill="rgba(255,255,0,0.45)" stroke="#2a1414" stroke-width="0.6"/><polygon points="420.50,140.38 427.10,140.38 423.80,147.64" fill="rgba(255,255,0,0.45)" stroke="#2a1414" stroke-width="0.6"/><polygon points="440.20,152.33 444.20,152.33 442.20,156.73" fill="rgba(255,255,0,0.45)" stroke="#2a1414" stroke-width="0.6"/><polygon points="358.20,170.73 362.20,170.73 360.20,175.13" fill="rgba(255,255,0,0.45)" stroke="#2a1414" stroke-width="0.6"/><polygon points="385.75,178.05 390.25,178.05 388.00,183.00" fill="rgba(255,255,0,0.45)" stroke="#2a1414" stroke-width="0.6"/><polygon points="413.05,172.55 417.55,172.55 415.30,177.50" fill="rgba(255,255,0,0.45)" stroke="#2a1414" stroke-width="0.6"/><polygon points="437.40,186.03 441.40,186.03 439.40,190.43" fill="rgba(255,255,0,0.45)" stroke="#2a1414" stroke-width="0.6"/><polygon points="431.10,195.20 434.10,195.20 432.60,198.50" fill="rgba(255,255,0,0.45)" stroke="#2a1414" stroke-width="0.6"/><polygon points="407.50,196.10 413.50,196.10 410.50,202.70" fill="rgba(62,222,62,0.45)" stroke="#2a1414" stroke-width="0.6"/><polygon points="313.50,185.20 316.50,185.20 315.00,188.50" fill="rgba(255,255,0,0.45)" stroke="#2a1414" stroke-width="0.6"/><polygon points="345.30,189.33 349.30,189.33 347.30,193.73" fill="rgba(255,255,0,0.45)" stroke="#2a1414" stroke-width="0.6"/><polygon points="287.50,194.47 292.50,194.47 290.00,199.97" fill="rgba(255,255,0,0.45)" stroke="#2a1414" stroke-width="0.6"/><polygon points="374.95,203.68 380.45,203.68 377.70,209.73" fill="rgba(255,255,0,0.45)" stroke="#2a1414" stroke-width="0.6"/><polygon points="415.10,210.53 419.10,210.53 417.10,214.93" fill="rgba(255,255,0,0.45)" stroke="#2a1414" stroke-width="0.6"/><polygon points="345.95,215.32 349.45,215.32 347.70,219.17" fill="rgba(255,255,0,0.45)" stroke="#2a1414" stroke-width="0.6"/><polygon points="397.25,227.08 402.75,227.08 400.00,233.13" fill="rgba(255,255,0,0.45)" stroke="#2a1414" stroke-width="0.6"/><polygon points="370.05,233.32 376.55,233.32 373.30,240.47" fill="rgba(255,255,0,0.45)" stroke="#2a1414" stroke-width="0.6"/><polygon points="331.85,241.82 341.35,241.82 336.60,252.27" fill="rgba(255,255,0,0.45)" stroke="#2a1414" stroke-width="0.6"/><polygon points="393.55,253.12 397.05,253.12 395.30,256.97" fill="rgba(255,255,0,0.45)" stroke="#2a1414" stroke-width="0.6"/><polygon points="369.75,259.75 380.25,259.75 375.00,271.30" fill="rgba(255,255,0,0.45)" stroke="#2a1414" stroke-width="0.6"/><polygon points="420.30,256.43 424.30,256.43 422.30,260.83" fill="rgba(255,255,0,0.45)" stroke="#2a1414" stroke-width="0.6"/><polygon points="146.43,164.79 155.18,164.79 150.80,174.42" fill="rgba(255,255,0,0.45)" stroke="#2a1414" stroke-width="0.6"/><polygon points="180.00,157.61 190.60,157.61 185.30,169.27" fill="rgba(255,255,0,0.45)" stroke="#2a1414" stroke-width="0.6"/><polygon points="179.55,185.35 184.05,185.35 181.80,190.30" fill="rgba(255,255,0,0.45)" stroke="#2a1414" stroke-width="0.6"/><polygon points="210.70,172.03 214.70,172.03 212.70,176.43" fill="rgba(62,222,62,0.45)" stroke="#2a1414" stroke-width="0.6"/><polygon points="208.80,204.10 214.80,204.10 211.80,210.70" fill="rgba(255,255,0,0.45)" stroke="#2a1414" stroke-width="0.6"/><polygon points="222.50,140.53 226.50,140.53 224.50,144.93" fill="rgba(255,255,0,0.45)" stroke="#2a1414" stroke-width="0.6"/><polygon points="244.05,141.12 248.35,141.12 246.20,145.85" fill="rgba(255,255,0,0.45)" stroke="#2a1414" stroke-width="0.6"/><polygon points="256.25,158.72 259.75,158.72 258.00,162.57" fill="rgba(255,255,0,0.45)" stroke="#2a1414" stroke-width="0.6"/><polygon points="238.55,175.02 242.05,175.02 240.30,178.87" fill="rgba(255,255,0,0.45)" stroke="#2a1414" stroke-width="0.6"/><polygon points="258.25,181.65 262.75,181.65 260.50,186.60" fill="rgba(255,255,0,0.45)" stroke="#2a1414" stroke-width="0.6"/><polygon points="234.50,202.93 241.50,202.93 238.00,210.63" fill="rgba(255,255,0,0.45)" stroke="#2a1414" stroke-width="0.6"/><polygon points="269.25,209.85 273.75,209.85 271.50,214.80" fill="rgba(255,255,0,0.45)" stroke="#2a1414" stroke-width="0.6"/><polygon points="220.20,229.53 224.20,229.53 222.20,233.93" fill="rgba(255,255,0,0.45)" stroke="#2a1414" stroke-width="0.6"/><polygon points="243.35,236.22 246.85,236.22 245.10,240.07" fill="rgba(255,255,0,0.45)" stroke="#2a1414" stroke-width="0.6"/><polygon points="262.10,235.47 267.10,235.47 264.60,240.97" fill="rgba(255,255,0,0.45)" stroke="#2a1414" stroke-width="0.6"/><polygon points="292.90,230.37 297.90,230.37 295.40,235.87" fill="rgba(255,255,0,0.45)" stroke="#2a1414" stroke-width="0.6"/><polygon points="314.35,219.78 319.85,219.78 317.10,225.83" fill="rgba(255,255,0,0.45)" stroke="#2a1414" stroke-width="0.6"/><polygon points="235.75,265.68 238.25,265.68 237.00,268.43" fill="rgba(62,222,62,0.45)" stroke="#2a1414" stroke-width="0.6"/><polygon points="256.25,267.55 260.75,267.55 258.50,272.50" fill="rgba(255,255,0,0.45)" stroke="#2a1414" stroke-width="0.6"/><polygon points="282.85,261.48 288.35,261.48 285.60,267.53" fill="rgba(255,255,0,0.45)" stroke="#2a1414" stroke-width="0.6"/><polygon points="302.80,256.10 305.80,256.10 304.30,259.40" fill="rgba(255,255,0,0.45)" stroke="#2a1414" stroke-width="0.6"/><polygon points="335.15,269.38 337.65,269.38 336.40,272.13" fill="rgba(255,255,0,0.45)" stroke="#2a1414" stroke-width="0.6"/><polygon points="361.10,268.57 366.10,268.57 363.60,274.07" fill="rgba(255,255,0,0.45)" stroke="#2a1414" stroke-width="0.6"/><polygon points="268.25,289.65 275.75,289.65 272.00,297.90" fill="rgba(62,222,62,0.45)" stroke="#2a1414" stroke-width="0.6"/><polygon points="299.45,281.02 305.95,281.02 302.70,288.17" fill="rgba(255,255,0,0.45)" stroke="#2a1414" stroke-width="0.6"/><polygon points="233.75,299.28 245.25,299.28 239.50,311.93" fill="rgba(255,255,0,0.45)" stroke="#2a1414" stroke-width="0.6"/><polygon points="322.50,294.63 326.50,294.63 324.50,299.03" fill="rgba(255,255,0,0.45)" stroke="#2a1414" stroke-width="0.6"/><polygon points="351.35,290.82 354.85,290.82 353.10,294.67" fill="rgba(255,255,0,0.45)" stroke="#2a1414" stroke-width="0.6"/><polygon points="292.60,311.77 294.60,311.77 293.60,313.97" fill="rgba(255,255,0,0.45)" stroke="#2a1414" stroke-width="0.6"/><polygon points="260.40,317.03 267.40,317.03 263.90,324.73" fill="rgba(255,255,0,0.45)" stroke="#2a1414" stroke-width="0.6"/><polygon points="344.50,314.63 348.50,314.63 346.50,319.03" fill="rgba(255,255,0,0.45)" stroke="#2a1414" stroke-width="0.6"/><polygon points="397.20,283.67 402.20,283.67 399.70,289.17" fill="rgba(255,255,0,0.45)" stroke="#2a1414" stroke-width="0.6"/><polygon points="416.75,273.75 424.25,273.75 420.50,282.00" fill="rgba(255,255,0,0.45)" stroke="#2a1414" stroke-width="0.6"/><polygon points="365.75,303.35 373.25,303.35 369.50,311.60" fill="rgba(255,255,0,0.45)" stroke="#2a1414" stroke-width="0.6"/><polygon points="388.85,307.02 395.35,307.02 392.10,314.17" fill="rgba(255,255,0,0.45)" stroke="#2a1414" stroke-width="0.6"/><polygon points="414.50,309.67 419.50,309.67 417.00,315.17" fill="rgba(255,255,0,0.45)" stroke="#2a1414" stroke-width="0.6"/><polygon points="356.90,332.03 363.90,332.03 360.40,339.73" fill="rgba(255,255,0,0.45)" stroke="#2a1414" stroke-width="0.6"/><polygon points="389.45,332.25 390.95,332.25 390.20,333.90" fill="rgba(62,222,62,0.45)" stroke="#2a1414" stroke-width="0.6"/><polygon points="417.80,326.60 423.80,326.60 420.80,333.20" fill="rgba(255,255,0,0.45)" stroke="#2a1414" stroke-width="0.6"/><polygon points="444.05,337.25 445.55,337.25 444.80,338.90" fill="rgba(62,222,62,0.45)" stroke="#2a1414" stroke-width="0.6"/><polygon points="284.05,329.52 287.55,329.52 285.80,333.37" fill="rgba(255,255,0,0.45)" stroke="#2a1414" stroke-width="0.6"/><polygon points="305.20,340.93 312.20,340.93 308.70,348.63" fill="rgba(62,222,62,0.45)" stroke="#2a1414" stroke-width="0.6"/><polygon points="228.50,337.33 238.50,337.33 233.50,348.33" fill="rgba(255,255,0,0.45)" stroke="#2a1414" stroke-width="0.6"/><polygon points="259.30,343.80 265.30,343.80 262.30,350.40" fill="rgba(255,255,0,0.45)" stroke="#2a1414" stroke-width="0.6"/><polygon points="224.30,357.27 229.30,357.27 226.80,362.77" fill="rgba(255,255,0,0.45)" stroke="#2a1414" stroke-width="0.6"/><polygon points="251.55,364.78 257.05,364.78 254.30,370.83" fill="rgba(255,255,0,0.45)" stroke="#2a1414" stroke-width="0.6"/><polygon points="276.80,356.13 286.80,356.13 281.80,367.13" fill="rgba(255,255,0,0.45)" stroke="#2a1414" stroke-width="0.6"/><polygon points="289.15,373.08 291.65,373.08 290.40,375.83" fill="rgba(255,255,0,0.45)" stroke="#2a1414" stroke-width="0.6"/><polygon points="310.05,365.48 315.55,365.48 312.80,371.53" fill="rgba(255,255,0,0.45)" stroke="#2a1414" stroke-width="0.6"/><polygon points="314.60,387.60 320.60,387.60 317.60,394.20" fill="rgba(255,255,0,0.45)" stroke="#2a1414" stroke-width="0.6"/><polygon points="333.60,346.20 345.60,346.20 339.60,359.40" fill="rgba(255,255,0,0.45)" stroke="#2a1414" stroke-width="0.6"/><polygon points="385.80,352.63 395.80,352.63 390.80,363.63" fill="rgba(255,255,0,0.45)" stroke="#2a1414" stroke-width="0.6"/><polygon points="420.50,357.60 423.50,357.60 422.00,360.90" fill="rgba(62,222,62,0.45)" stroke="#2a1414" stroke-width="0.6"/><polygon points="500.30,385.38 506.90,385.38 503.60,392.64" fill="rgba(255,255,0,0.45)" stroke="#2a1414" stroke-width="0.6"/><polygon points="497.80,410.57 502.80,410.57 500.30,416.07" fill="rgba(255,255,0,0.45)" stroke="#2a1414" stroke-width="0.6"/></g>
<rect x="54.8" y="84.6" width="99.6" height="96.2" fill="none" stroke="#555" stroke-width="1"/>
<g font-size="7.2">
<text x="61.3" y="96.2">Evolution votants</text>
<text x="61.3" y="104">Base commune 2018</text>
<text x="61.3" y="111.8">-Choix présidentielles 2016</text>
</g>
<rect x="59.8" y="120.8" width="9" height="4.8" rx="1" fill="#9898cc" stroke="#333" stroke-width="0.7"/><text x="74.8" y="125.4" font-size="5.75">[ -656 ; -200 ]</text><rect x="59.8" y="133.0" width="9" height="4.8" rx="1" fill="#a8a8ff" stroke="#333" stroke-width="0.7"/><text x="74.8" y="137.6" font-size="5.75">[ -200 ; -100 ]</text><rect x="59.8" y="145.2" width="9" height="4.8" rx="1" fill="#fcf2fc" stroke="#333" stroke-width="0.7"/><text x="74.8" y="149.8" font-size="5.75">[ -100 ; -50 [</text><rect x="59.8" y="157.4" width="9" height="4.8" rx="1" fill="#ffaaaa" stroke="#333" stroke-width="0.7"/><text x="74.8" y="162.0" font-size="5.75">[ -50 ; 0 [</text><rect x="59.8" y="169.6" width="9" height="4.8" rx="1" fill="#c89494" stroke="#333" stroke-width="0.7"/><text x="74.8" y="174.2" font-size="5.75">[ 0 ; 207 ]</text>
<rect x="57.5" y="207.6" width="145" height="154.6" fill="none" stroke="#555" stroke-width="1"/>
<text x="63.2" y="217.9" font-size="7.2">Paris et première couronne</text>
<polygon points="107.5,241.9 113.1,240.9 118.8,240.0 124.4,238.1 131.9,240.0 139.4,240.9 145.0,242.8 148.8,238.1 154.4,236.3 160.0,230.6 165.6,226.9 167.5,225.0 169.4,226.9 171.3,234.4 173.1,241.9 175.0,247.5 176.9,255.0 173.1,262.5 172.2,270.0 173.1,277.5 173.1,286.9 174.1,292.5 173.1,298.1 176.9,303.8 178.8,309.4 175.0,313.1 173.1,318.8 171.3,324.4 171.3,330.9 165.6,332.8 161.9,330.0 158.1,322.5 154.4,318.8 148.8,320.6 141.3,323.4 135.6,321.6 130.0,322.5 124.4,320.6 120.6,315.0 115.0,315.0 111.3,318.8 107.5,316.9 103.8,313.1 98.1,307.5 92.5,301.9 88.8,298.1 85.0,296.3 81.3,294.4 77.5,290.6 74.7,285.0 75.6,281.3 73.8,276.0 77.5,268.1 83.1,260.6 88.8,256.9 98.1,249.4 105.6,245.6" fill="#9898cc" stroke="#8a8a8a" stroke-width="0.6"/><polyline points="92.5,273.8 94.4,268.1 103.8,262.5 115.0,261.6 128.1,261.6 131.9,264.4 133.8,273.8 133.8,281.3 135.6,283.1 145.0,281.3 148.8,277.5 158.0,279.4 167.5,286.9 173.1,294.4" fill="none" stroke="#8a8a8a" stroke-width="0.6"/><polyline points="92.5,273.8 92.5,278.0 99.0,283.0 107.5,286.9 115.0,290.6 113.1,300.0 111.3,307.5 112.2,316.9" fill="none" stroke="#8a8a8a" stroke-width="0.6"/><polyline points="115.0,290.6 122.5,288.8 130.0,286.9 133.8,285.0 135.6,283.1" fill="none" stroke="#8a8a8a" stroke-width="0.6"/><polyline points="107.5,241.9 112.0,244.0 116.0,246.0 115.0,252.0 112.0,256.0 110.0,261.6" fill="none" stroke="#8a8a8a" stroke-width="0.6"/><polyline points="145.0,281.3 146.9,286.9 145.0,288.8" fill="none" stroke="#8a8a8a" stroke-width="0.6"/><circle cx="99.1" cy="286.5" r="6.9" fill="rgba(224,0,0,0.53)" stroke="#2a1414" stroke-width="0.6"/><circle cx="121.6" cy="279" r="8.4" fill="rgba(224,0,0,0.53)" stroke="#2a1414" stroke-width="0.6"/><circle cx="144.1" cy="300.9" r="10.9" fill="rgba(224,0,0,0.53)" stroke="#2a1414" stroke-width="0.6"/><circle cx="148.8" cy="257.8" r="6.2" fill="rgba(224,0,0,0.53)" stroke="#2a1414" stroke-width="0.6"/><polygon points="94.40,296.30 105.10,296.30 99.75,306.60" fill="rgba(255,255,0,0.45)" stroke="#2a1414" stroke-width="0.6"/><polygon points="117.80,290.60 125.90,290.60 121.85,298.10" fill="rgba(255,255,0,0.45)" stroke="#2a1414" stroke-width="0.6"/><polygon points="138.40,310.30 149.70,310.30 144.05,321.60" fill="rgba(255,255,0,0.45)" stroke="#2a1414" stroke-width="0.6"/><polygon points="143.10,267.80 155.30,267.80 149.20,278.40" fill="rgba(255,255,0,0.45)" stroke="#2a1414" stroke-width="0.6"/>
<rect x="485.8" y="70.6" width="90.7" height="125.4" fill="none" stroke="#555" stroke-width="1"/>
<text x="492.5" y="82.3" font-size="7.2">Voix Manifeste + Classe</text>
<circle cx="503.05" cy="101.2" r="11.9" fill="rgba(224,0,0,0.53)" stroke="#2a1414" stroke-width="0.6"/><text x="521.5" y="103.2" font-size="5.75">1 000</text><circle cx="503.05" cy="128.8" r="10.6" fill="rgba(224,0,0,0.53)" stroke="#2a1414" stroke-width="0.6"/><text x="521.5" y="130.8" font-size="5.75">750</text><circle cx="503.05" cy="152.8" r="8.65" fill="rgba(224,0,0,0.53)" stroke="#2a1414" stroke-width="0.6"/><text x="521.5" y="154.8" font-size="5.75">500</text><circle cx="503.05" cy="172.3" r="6.2" fill="rgba(224,0,0,0.53)" stroke="#2a1414" stroke-width="0.6"/><text x="521.5" y="174.3" font-size="5.75">250</text><circle cx="503.05" cy="187.4" r="3.85" fill="rgba(224,0,0,0.53)" stroke="#2a1414" stroke-width="0.6"/><text x="521.5" y="189.4" font-size="5.75">100</text>
<rect x="486.4" y="217.6" width="97.1" height="131" fill="none" stroke="#555" stroke-width="1"/>
<text x="493.2" y="228.8" font-size="7.2">Manifeste + Classe</text>
<text x="493.2" y="237" font-size="7.2">comparé à l'option 2 (2016)</text>
<polygon points="491.90,244.50 512.50,244.50 502.20,264.70" fill="rgba(62,222,62,0.45)" stroke="#2a1414" stroke-width="0.6"/><text x="518.7" y="256.8" font-size="5.75">500</text><polygon points="494.90,270.20 509.70,270.20 502.30,284.50" fill="rgba(62,222,62,0.45)" stroke="#2a1414" stroke-width="0.6"/><text x="518.7" y="279.4" font-size="5.75">250</text><polygon points="497.30,289.90 507.10,289.90 502.20,299.30" fill="rgba(62,222,62,0.45)" stroke="#2a1414" stroke-width="0.6"/><text x="518.7" y="296.2" font-size="5.75">100</text><polygon points="498.80,304.30 505.40,304.30 502.10,311.30" fill="rgba(255,255,0,0.45)" stroke="#2a1414" stroke-width="0.6"/><text x="518.7" y="309.4" font-size="5.75">-50</text><polygon points="497.30,316.00 507.10,316.00 502.20,325.90" fill="rgba(255,255,0,0.45)" stroke="#2a1414" stroke-width="0.6"/><text x="518.7" y="322.9" font-size="5.75">-100</text><polygon points="495.30,330.00 509.00,330.00 502.15,344.20" fill="rgba(255,255,0,0.45)" stroke="#2a1414" stroke-width="0.6"/><text x="518.7" y="339.1" font-size="5.75">-200</text>
<text x="6" y="446" font-size="7.2">Cartographie pam pour lepcf.fr (avec Cartes &amp; Données - © Articque)</text>
</svg>
</body></html>
